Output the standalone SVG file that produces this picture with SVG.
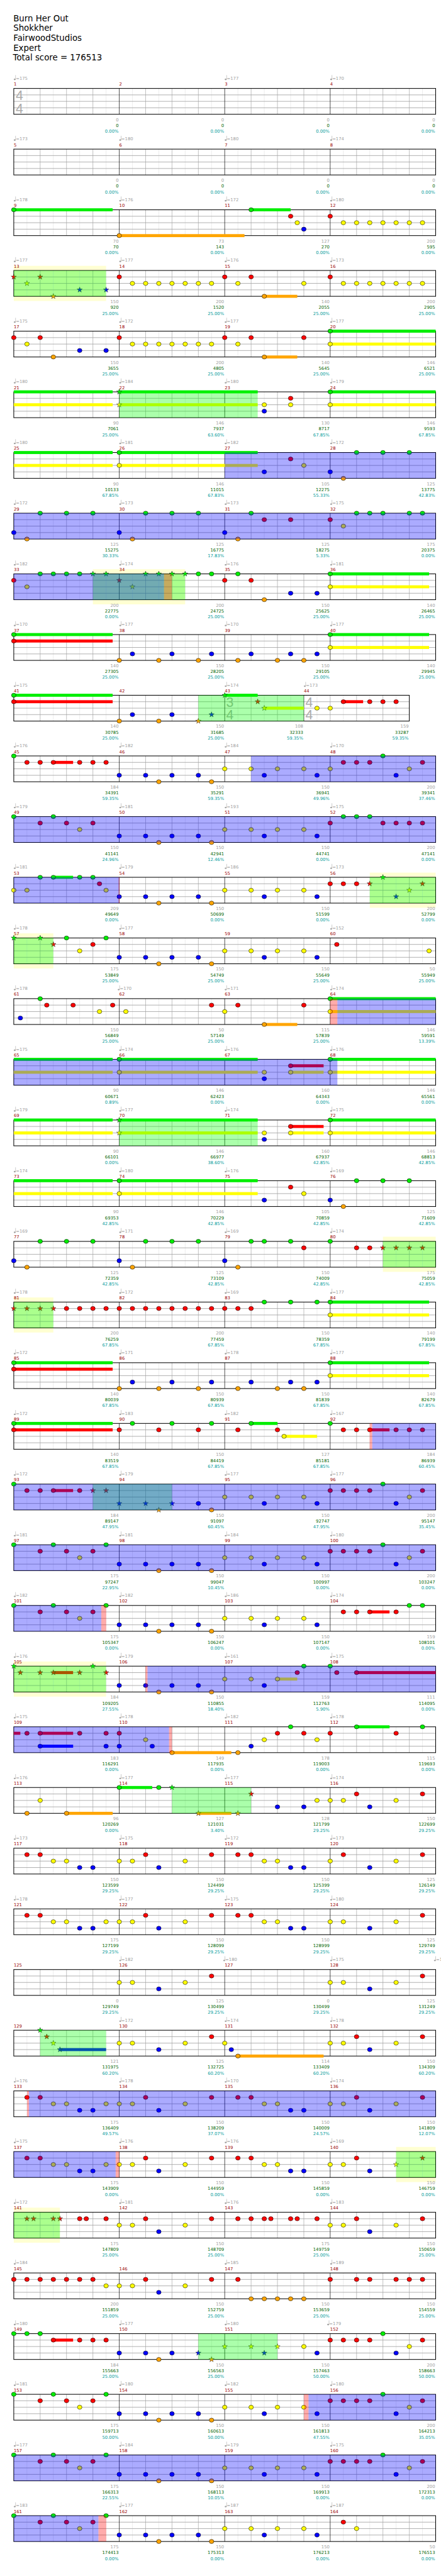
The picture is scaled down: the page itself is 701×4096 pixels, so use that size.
<svg xmlns="http://www.w3.org/2000/svg" width="701" height="4096" viewBox="0 0 701 4096">
<style>
text{font-family:"DejaVu Sans","Liberation Sans",sans-serif;font-size:10px}
.hd{font-size:19.5px;fill:#000}
.tp{fill:#a0a0a0}
.mn{fill:#990000}
.bt{text-anchor:end}
.b1{fill:#a0a0a0}.b2{fill:#006400}.b3{fill:#009a9a}
.ts{font-family:"Liberation Sans",sans-serif;font-size:31px;fill:#acacac;text-anchor:middle}
.G{fill:#00ee00}.R{fill:#ff0000}.Y{fill:#ffff00}.B{fill:#0000ff}.O{fill:#ffa500}
.yb{fill:#ffffd2}
.gr{fill:#00ff00;opacity:.33}
.bl{fill:#0000ff;opacity:.33}
.rd{fill:#ff0000;opacity:.33}
</style>
<defs>
<ellipse id="n" rx="5.3" ry="4.8" stroke="#000" stroke-width="0.8"/>
<path id="s" d="M0-6.5L1.53-2.1 6.18-2.01 2.47.8 3.82 5.26 0 2.6-3.82 5.26-2.47.8-6.18-2.01-1.53-2.1Z" stroke="#222" stroke-width="0.7" stroke-linejoin="round"/>
<g id="tg" fill="#a0a0a0"><ellipse cx="2.2" cy="0" rx="2.3" ry="1.7"/><rect x="3.9" y="-10" width="0.8" height="10"/></g>
<g id="staff" fill="none">
<path stroke="#e4e4e4" d="M62.6 0v60M123.9 0v60M185.1 0v60M246.4 0v60M307.6 0v60M368.9 0v60M430.1 0v60M491.4 0v60M552.6 0v60M613.9 0v60M675.1 0v60M736.4 0v60M797.6 0v60M858.9 0v60M920.1 0v60M981.4 0v60"/>
<path stroke="#a4a4a4" d="M93.3 0v60M154.5 0v60M215.8 0v60M338.3 0v60M399.5 0v60M460.8 0v60M583.3 0v60M644.5 0v60M705.8 0v60M828.3 0v60M889.5 0v60M950.8 0v60"/>
<path stroke="#a0a0a0" stroke-width="1.2" d="M32 15H1012M32 30H1012M32 45H1012"/>
<path stroke="#000" d="M277 0v60M522 0v60M767 0v60"/>
<rect x="32" y="0" width="980" height="60" stroke="#000" stroke-width="1.5"/>
</g>
<g id="staff10" fill="none">
<path stroke="#e4e4e4" d="M62.6 0v60M123.9 0v60M185.1 0v60M246.4 0v60M307.6 0v60M368.9 0v60M430.1 0v60M491.4 0v60M552.6 0v60M613.9 0v60M675.1 0v60M736.4 0v60M797.6 0v60M858.9 0v60M920.1 0v60"/>
<path stroke="#a4a4a4" d="M93.3 0v60M154.5 0v60M215.8 0v60M338.3 0v60M399.5 0v60M460.8 0v60M583.3 0v60M644.5 0v60M767 0v60M828.3 0v60M889.5 0v60"/>
<path stroke="#a0a0a0" stroke-width="1.2" d="M32 15H950.8M32 30H950.8M32 45H950.8"/>
<path stroke="#000" d="M277 0v60M522 0v60M705.8 0v60"/>
<rect x="32" y="0" width="918.8" height="60" stroke="#000" stroke-width="1.5"/>
</g>
</defs>
<rect width="701" height="4096" fill="#fff"/>
<g transform="scale(0.6843)">
<g id="header">
<text class="hd" x="31" y="49">Burn Her Out</text>
<text class="hd" x="31" y="72">Shokkher</text>
<text class="hd" x="31" y="95">FairwoodStudios</text>
<text class="hd" x="31" y="118">Expert</text>
<text class="hd" x="30" y="141">Total score = 176513</text>
</g>

<g id="row-1" transform="translate(0,205.5)">
<use href="#staff"/>
<text class="ts" x="45" y="27.5">4</text><text class="ts" x="45" y="57">4</text>
<use href="#tg" x="32" y="-21"/><use href="#tg" x="522" y="-21"/><use href="#tg" x="767" y="-21"/>
<text class="tp" y="-20"><tspan x="36.8">=175</tspan><tspan x="526.8">=177</tspan><tspan x="771.8">=170</tspan></text>
<text class="mn" y="-6.5"><tspan x="32">1</tspan><tspan x="277">2</tspan><tspan x="522">3</tspan><tspan x="767">4</tspan></text>
<text class="bt b1" y="76"><tspan x="275.5">0</tspan><tspan x="520.5">0</tspan><tspan x="765.5">0</tspan><tspan x="1010.5">0</tspan></text>
<text class="bt b2" y="89.5"><tspan x="275.5">0</tspan><tspan x="520.5">0</tspan><tspan x="765.5">0</tspan><tspan x="1010.5">0</tspan></text>
<text class="bt b3" y="103"><tspan x="275.5">0.00%</tspan><tspan x="520.5">0.00%</tspan><tspan x="765.5">0.00%</tspan><tspan x="1010.5">0.00%</tspan></text>
</g>

<g id="row-2" transform="translate(0,346.5)">
<use href="#staff"/>
<use href="#tg" x="32" y="-21"/><use href="#tg" x="277" y="-21"/><use href="#tg" x="522" y="-21"/><use href="#tg" x="767" y="-21"/>
<text class="tp" y="-20"><tspan x="36.8">=173</tspan><tspan x="281.8">=180</tspan><tspan x="526.8">=180</tspan><tspan x="771.8">=174</tspan></text>
<text class="mn" y="-6.5"><tspan x="32">5</tspan><tspan x="277">6</tspan><tspan x="522">7</tspan><tspan x="767">8</tspan></text>
<text class="bt b1" y="76"><tspan x="275.5">0</tspan><tspan x="520.5">0</tspan><tspan x="765.5">0</tspan><tspan x="1010.5">0</tspan></text>
<text class="bt b2" y="89.5"><tspan x="275.5">0</tspan><tspan x="520.5">0</tspan><tspan x="765.5">0</tspan><tspan x="1010.5">0</tspan></text>
<text class="bt b3" y="103"><tspan x="275.5">0.00%</tspan><tspan x="520.5">0.00%</tspan><tspan x="765.5">0.00%</tspan><tspan x="1010.5">0.00%</tspan></text>
</g>

<g id="row-3" transform="translate(0,487.5)">
<use href="#staff"/>
<use href="#tg" x="32" y="-21"/><use href="#tg" x="277" y="-21"/><use href="#tg" x="522" y="-21"/><use href="#tg" x="767" y="-21"/>
<text class="tp" y="-20"><tspan x="36.8">=178</tspan><tspan x="281.8">=176</tspan><tspan x="526.8">=172</tspan><tspan x="771.8">=180</tspan></text>
<text class="mn" y="-6.5"><tspan x="32">9</tspan><tspan x="277">10</tspan><tspan x="522">11</tspan><tspan x="767">12</tspan></text>
<text class="bt b1" y="76"><tspan x="275.5">70</tspan><tspan x="520.5">73</tspan><tspan x="765.5">127</tspan><tspan x="1010.5">200</tspan></text>
<text class="bt b2" y="89.5"><tspan x="275.5">70</tspan><tspan x="520.5">143</tspan><tspan x="765.5">270</tspan><tspan x="1010.5">595</tspan></text>
<text class="bt b3" y="103"><tspan x="275.5">0.00%</tspan><tspan x="520.5">0.00%</tspan><tspan x="765.5">0.00%</tspan><tspan x="1010.5">0.00%</tspan></text>
<rect class="G" x="32" y="-3.5" width="229.7" height="7"/><rect class="O" x="277" y="56.5" width="290.9" height="7"/><rect class="G" x="583.3" y="-3.5" width="91.9" height="7"/>
<g class="G"><use href="#n" x="32" y="0"/><use href="#n" x="583.3" y="0"/></g>
<g class="O"><use href="#n" x="277" y="60"/></g>
<g class="R"><use href="#n" x="675.1" y="15"/><use href="#n" x="767" y="15"/></g>
<g class="Y"><use href="#n" x="690.4" y="30"/><use href="#n" x="797.6" y="30"/><use href="#n" x="828.3" y="30"/><use href="#n" x="858.9" y="30"/><use href="#n" x="889.5" y="30"/><use href="#n" x="920.1" y="30"/><use href="#n" x="950.8" y="30"/><use href="#n" x="981.4" y="30"/></g>
<g class="B"><use href="#n" x="705.8" y="45"/></g>
</g>

<g id="row-4" transform="translate(0,628.5)">
<rect class="yb" x="32" y="-10.8" width="214.4" height="81.6"/>
<use href="#staff"/>
<use href="#tg" x="32" y="-21"/><use href="#tg" x="277" y="-21"/><use href="#tg" x="522" y="-21"/><use href="#tg" x="767" y="-21"/>
<text class="tp" y="-20"><tspan x="36.8">=177</tspan><tspan x="281.8">=177</tspan><tspan x="526.8">=176</tspan><tspan x="771.8">=173</tspan></text>
<text class="mn" y="-6.5"><tspan x="32">13</tspan><tspan x="277">14</tspan><tspan x="522">15</tspan><tspan x="767">16</tspan></text>
<text class="bt b1" y="76"><tspan x="275.5">150</tspan><tspan x="520.5">200</tspan><tspan x="765.5">140</tspan><tspan x="1010.5">200</tspan></text>
<text class="bt b2" y="89.5"><tspan x="275.5">920</tspan><tspan x="520.5">1520</tspan><tspan x="765.5">2055</tspan><tspan x="1010.5">2905</tspan></text>
<text class="bt b3" y="103"><tspan x="275.5">25.00%</tspan><tspan x="520.5">25.00%</tspan><tspan x="765.5">25.00%</tspan><tspan x="1010.5">25.00%</tspan></text>
<rect class="O" x="613.9" y="56.5" width="76.6" height="7"/>
<g class="R"><use href="#n" x="277" y="15"/><use href="#n" x="522" y="15"/><use href="#n" x="583.3" y="15"/><use href="#n" x="767" y="15"/><use href="#s" x="32" y="15"/><use href="#s" x="93.3" y="15"/></g>
<g class="Y"><use href="#n" x="307.6" y="30"/><use href="#n" x="338.3" y="30"/><use href="#n" x="368.9" y="30"/><use href="#n" x="399.5" y="30"/><use href="#n" x="430.1" y="30"/><use href="#n" x="460.8" y="30"/><use href="#n" x="491.4" y="30"/><use href="#n" x="552.6" y="30"/><use href="#n" x="705.8" y="30"/><use href="#n" x="797.6" y="30"/><use href="#n" x="828.3" y="30"/><use href="#n" x="858.9" y="30"/><use href="#n" x="889.5" y="30"/><use href="#n" x="920.1" y="30"/><use href="#n" x="950.8" y="30"/><use href="#n" x="981.4" y="30"/><use href="#s" x="62.6" y="30"/></g>
<g class="O"><use href="#n" x="613.9" y="60"/><use href="#s" x="123.9" y="60"/></g>
<g class="B"><use href="#s" x="185.1" y="45"/><use href="#s" x="246.4" y="45"/></g>
<rect class="gr" x="32" y="0" width="214.4" height="60"/>
</g>

<g id="row-5" transform="translate(0,769.5)">
<use href="#staff"/>
<use href="#tg" x="32" y="-21"/><use href="#tg" x="277" y="-21"/><use href="#tg" x="522" y="-21"/><use href="#tg" x="767" y="-21"/>
<text class="tp" y="-20"><tspan x="36.8">=175</tspan><tspan x="281.8">=172</tspan><tspan x="526.8">=177</tspan><tspan x="771.8">=177</tspan></text>
<text class="mn" y="-6.5"><tspan x="32">17</tspan><tspan x="277">18</tspan><tspan x="522">19</tspan><tspan x="767">20</tspan></text>
<text class="bt b1" y="76"><tspan x="275.5">150</tspan><tspan x="520.5">200</tspan><tspan x="765.5">140</tspan><tspan x="1010.5">146</tspan></text>
<text class="bt b2" y="89.5"><tspan x="275.5">3655</tspan><tspan x="520.5">4805</tspan><tspan x="765.5">5645</tspan><tspan x="1010.5">6521</tspan></text>
<text class="bt b3" y="103"><tspan x="275.5">25.00%</tspan><tspan x="520.5">25.00%</tspan><tspan x="765.5">25.00%</tspan><tspan x="1010.5">25.00%</tspan></text>
<rect class="O" x="613.9" y="56.5" width="76.6" height="7"/><rect class="G" x="767" y="-3.5" width="245" height="7"/><rect class="Y" x="767" y="26.5" width="245" height="7"/>
<g class="R"><use href="#n" x="32" y="15"/><use href="#n" x="93.3" y="15"/><use href="#n" x="277" y="15"/><use href="#n" x="522" y="15"/><use href="#n" x="583.3" y="15"/><use href="#n" x="705.8" y="15"/></g>
<g class="Y"><use href="#n" x="62.6" y="30"/><use href="#n" x="307.6" y="30"/><use href="#n" x="338.3" y="30"/><use href="#n" x="368.9" y="30"/><use href="#n" x="399.5" y="30"/><use href="#n" x="430.1" y="30"/><use href="#n" x="460.8" y="30"/><use href="#n" x="491.4" y="30"/><use href="#n" x="552.6" y="30"/><use href="#n" x="767" y="30"/></g>
<g class="B"><use href="#n" x="185.1" y="45"/><use href="#n" x="246.4" y="45"/></g>
<g class="O"><use href="#n" x="123.9" y="60"/><use href="#n" x="613.9" y="60"/></g>
<g class="G"><use href="#n" x="767" y="0"/></g>
</g>

<g id="row-6" transform="translate(0,910.5)">
<use href="#staff"/>
<use href="#tg" x="32" y="-21"/><use href="#tg" x="277" y="-21"/><use href="#tg" x="522" y="-21"/><use href="#tg" x="767" y="-21"/>
<text class="tp" y="-20"><tspan x="36.8">=180</tspan><tspan x="281.8">=184</tspan><tspan x="526.8">=180</tspan><tspan x="771.8">=179</tspan></text>
<text class="mn" y="-6.5"><tspan x="32">21</tspan><tspan x="277">22</tspan><tspan x="522">23</tspan><tspan x="767">24</tspan></text>
<text class="bt b1" y="76"><tspan x="275.5">90</tspan><tspan x="520.5">146</tspan><tspan x="765.5">130</tspan><tspan x="1010.5">146</tspan></text>
<text class="bt b2" y="89.5"><tspan x="275.5">7061</tspan><tspan x="520.5">7937</tspan><tspan x="765.5">8717</tspan><tspan x="1010.5">9593</tspan></text>
<text class="bt b3" y="103"><tspan x="275.5">25.00%</tspan><tspan x="520.5">63.60%</tspan><tspan x="765.5">67.85%</tspan><tspan x="1010.5">67.85%</tspan></text>
<rect class="G" x="32" y="-3.5" width="229.7" height="7"/><rect class="Y" x="32" y="26.5" width="229.7" height="7"/><rect class="G" x="277" y="-3.5" width="321.6" height="7"/><rect class="Y" x="277" y="26.5" width="321.6" height="7"/><rect class="G" x="767" y="-3.5" width="245" height="7"/><rect class="Y" x="767" y="26.5" width="245" height="7"/>
<g class="Y"><use href="#n" x="613.9" y="30"/><use href="#n" x="675.1" y="30"/><use href="#n" x="767" y="30"/><use href="#s" x="277" y="30"/></g>
<g class="B"><use href="#n" x="613.9" y="45"/></g>
<g class="R"><use href="#n" x="675.1" y="15"/></g>
<g class="G"><use href="#n" x="767" y="0"/><use href="#s" x="277" y="0"/></g>
<rect class="gr" x="277" y="0" width="321.6" height="60"/>
</g>

<g id="row-7" transform="translate(0,1051.5)">
<use href="#staff"/>
<use href="#tg" x="32" y="-21"/><use href="#tg" x="277" y="-21"/><use href="#tg" x="522" y="-21"/><use href="#tg" x="767" y="-21"/>
<text class="tp" y="-20"><tspan x="36.8">=180</tspan><tspan x="281.8">=181</tspan><tspan x="526.8">=182</tspan><tspan x="771.8">=172</tspan></text>
<text class="mn" y="-6.5"><tspan x="32">25</tspan><tspan x="277">26</tspan><tspan x="522">27</tspan><tspan x="767">28</tspan></text>
<text class="bt b1" y="76"><tspan x="275.5">90</tspan><tspan x="520.5">146</tspan><tspan x="765.5">105</tspan><tspan x="1010.5">125</tspan></text>
<text class="bt b2" y="89.5"><tspan x="275.5">10133</tspan><tspan x="520.5">11015</tspan><tspan x="765.5">12275</tspan><tspan x="1010.5">13775</tspan></text>
<text class="bt b3" y="103"><tspan x="275.5">67.85%</tspan><tspan x="520.5">67.83%</tspan><tspan x="765.5">55.33%</tspan><tspan x="1010.5">42.83%</tspan></text>
<rect class="G" x="32" y="-3.5" width="229.7" height="7"/><rect class="Y" x="32" y="26.5" width="229.7" height="7"/><rect class="G" x="277" y="-3.5" width="321.6" height="7"/><rect class="Y" x="277" y="26.5" width="321.6" height="7"/>
<g class="G"><use href="#n" x="277" y="0"/><use href="#n" x="828.3" y="0"/><use href="#n" x="889.5" y="0"/><use href="#n" x="950.8" y="0"/></g>
<g class="Y"><use href="#n" x="277" y="30"/><use href="#n" x="705.8" y="30"/></g>
<g class="B"><use href="#n" x="613.9" y="45"/><use href="#n" x="767" y="45"/></g>
<g class="R"><use href="#n" x="675.1" y="15"/></g>
<g class="O"><use href="#n" x="797.6" y="60"/></g>
<rect class="bl" x="522" y="0" width="490" height="60"/>
</g>

<g id="row-8" transform="translate(0,1192.5)">
<use href="#staff"/>
<use href="#tg" x="32" y="-21"/><use href="#tg" x="277" y="-21"/><use href="#tg" x="522" y="-21"/><use href="#tg" x="767" y="-21"/>
<text class="tp" y="-20"><tspan x="36.8">=172</tspan><tspan x="281.8">=173</tspan><tspan x="526.8">=173</tspan><tspan x="771.8">=175</tspan></text>
<text class="mn" y="-6.5"><tspan x="32">29</tspan><tspan x="277">30</tspan><tspan x="522">31</tspan><tspan x="767">32</tspan></text>
<text class="bt b1" y="76"><tspan x="275.5">125</tspan><tspan x="520.5">125</tspan><tspan x="765.5">125</tspan><tspan x="1010.5">175</tspan></text>
<text class="bt b2" y="89.5"><tspan x="275.5">15275</tspan><tspan x="520.5">16775</tspan><tspan x="765.5">18275</tspan><tspan x="1010.5">20375</tspan></text>
<text class="bt b3" y="103"><tspan x="275.5">30.33%</tspan><tspan x="520.5">17.83%</tspan><tspan x="765.5">5.33%</tspan><tspan x="1010.5">0.00%</tspan></text>
<g class="G"><use href="#n" x="93.3" y="0"/><use href="#n" x="154.5" y="0"/><use href="#n" x="215.8" y="0"/><use href="#n" x="338.3" y="0"/><use href="#n" x="399.5" y="0"/><use href="#n" x="460.8" y="0"/><use href="#n" x="583.3" y="0"/><use href="#n" x="828.3" y="0"/><use href="#n" x="858.9" y="0"/><use href="#n" x="889.5" y="0"/><use href="#n" x="950.8" y="0"/><use href="#n" x="981.4" y="0"/></g>
<g class="R"><use href="#n" x="613.9" y="15"/><use href="#n" x="675.1" y="15"/><use href="#n" x="767" y="15"/></g>
<g class="Y"><use href="#n" x="797.6" y="30"/></g>
<g class="B"><use href="#n" x="32" y="45"/><use href="#n" x="277" y="45"/><use href="#n" x="522" y="45"/></g>
<g class="O"><use href="#n" x="62.6" y="60"/><use href="#n" x="307.6" y="60"/><use href="#n" x="552.6" y="60"/></g>
<rect class="bl" x="32" y="0" width="980" height="60"/>
</g>

<g id="row-9" transform="translate(0,1333.5)">
<rect class="yb" x="215.8" y="-10.8" width="214.3" height="81.6"/>
<use href="#staff"/>
<use href="#tg" x="32" y="-21"/><use href="#tg" x="277" y="-21"/><use href="#tg" x="522" y="-21"/><use href="#tg" x="767" y="-21"/>
<text class="tp" y="-20"><tspan x="36.8">=182</tspan><tspan x="281.8">=174</tspan><tspan x="526.8">=176</tspan><tspan x="771.8">=181</tspan></text>
<text class="mn" y="-6.5"><tspan x="32">33</tspan><tspan x="277">34</tspan><tspan x="522">35</tspan><tspan x="767">36</tspan></text>
<text class="bt b1" y="76"><tspan x="275.5">200</tspan><tspan x="520.5">200</tspan><tspan x="765.5">150</tspan><tspan x="1010.5">140</tspan></text>
<text class="bt b2" y="89.5"><tspan x="275.5">22775</tspan><tspan x="520.5">24725</tspan><tspan x="765.5">25625</tspan><tspan x="1010.5">26465</tspan></text>
<text class="bt b3" y="103"><tspan x="275.5">0.00%</tspan><tspan x="520.5">25.00%</tspan><tspan x="765.5">25.00%</tspan><tspan x="1010.5">25.00%</tspan></text>
<rect class="G" x="767" y="-3.5" width="229.7" height="7"/><rect class="Y" x="767" y="26.5" width="229.7" height="7"/>
<g class="R"><use href="#n" x="32" y="15"/><use href="#n" x="522" y="15"/><use href="#n" x="583.3" y="15"/><use href="#s" x="277" y="15"/></g>
<g class="Y"><use href="#n" x="62.6" y="30"/><use href="#n" x="767" y="30"/><use href="#s" x="307.6" y="30"/></g>
<g class="G"><use href="#n" x="93.3" y="0"/><use href="#n" x="123.9" y="0"/><use href="#n" x="154.5" y="0"/><use href="#n" x="185.1" y="0"/><use href="#n" x="460.8" y="0"/><use href="#n" x="491.4" y="0"/><use href="#n" x="552.6" y="0"/><use href="#n" x="767" y="0"/><use href="#s" x="215.8" y="0"/><use href="#s" x="246.4" y="0"/><use href="#s" x="338.3" y="0"/><use href="#s" x="368.9" y="0"/><use href="#s" x="399.5" y="0"/><use href="#s" x="430.1" y="0"/></g>
<g class="O"><use href="#n" x="613.9" y="60"/></g>
<g class="B"><use href="#n" x="675.1" y="45"/><use href="#n" x="736.4" y="45"/></g>
<rect class="gr" x="215.8" y="0" width="214.3" height="60"/>
<rect class="bl" x="32" y="0" width="349" height="60"/>
<rect class="rd" x="381" y="0" width="18.5" height="60"/>
</g>

<g id="row-10" transform="translate(0,1474.5)">
<use href="#staff"/>
<use href="#tg" x="32" y="-21"/><use href="#tg" x="277" y="-21"/><use href="#tg" x="522" y="-21"/><use href="#tg" x="767" y="-21"/>
<text class="tp" y="-20"><tspan x="36.8">=170</tspan><tspan x="281.8">=177</tspan><tspan x="526.8">=170</tspan><tspan x="771.8">=177</tspan></text>
<text class="mn" y="-6.5"><tspan x="32">37</tspan><tspan x="277">38</tspan><tspan x="522">39</tspan><tspan x="767">40</tspan></text>
<text class="bt b1" y="76"><tspan x="275.5">140</tspan><tspan x="520.5">150</tspan><tspan x="765.5">150</tspan><tspan x="1010.5">140</tspan></text>
<text class="bt b2" y="89.5"><tspan x="275.5">27305</tspan><tspan x="520.5">28205</tspan><tspan x="765.5">29105</tspan><tspan x="1010.5">29945</tspan></text>
<text class="bt b3" y="103"><tspan x="275.5">25.00%</tspan><tspan x="520.5">25.00%</tspan><tspan x="765.5">25.00%</tspan><tspan x="1010.5">25.00%</tspan></text>
<rect class="G" x="32" y="-3.5" width="229.7" height="7"/><rect class="R" x="32" y="11.5" width="229.7" height="7"/><rect class="G" x="767" y="-3.5" width="229.7" height="7"/><rect class="Y" x="767" y="26.5" width="229.7" height="7"/>
<g class="G"><use href="#n" x="32" y="0"/><use href="#n" x="767" y="0"/></g>
<g class="R"><use href="#n" x="32" y="15"/></g>
<g class="Y"><use href="#n" x="767" y="30"/></g>
<g class="O"><use href="#n" x="277" y="60"/><use href="#n" x="368.9" y="60"/><use href="#n" x="460.8" y="60"/><use href="#n" x="552.6" y="60"/><use href="#n" x="644.5" y="60"/><use href="#n" x="705.8" y="60"/></g>
<g class="B"><use href="#n" x="307.6" y="45"/><use href="#n" x="399.5" y="45"/><use href="#n" x="491.4" y="45"/><use href="#n" x="583.3" y="45"/><use href="#n" x="675.1" y="45"/><use href="#n" x="736.4" y="45"/></g>
</g>

<g id="row-11" transform="translate(0,1615.5)">
<use href="#staff10"/>
<text class="ts" x="534" y="27.5">3</text><text class="ts" x="534" y="57">4</text><text class="ts" x="718" y="27.5">4</text><text class="ts" x="718" y="57">4</text>
<use href="#tg" x="32" y="-21"/><use href="#tg" x="522" y="-21"/><use href="#tg" x="705.8" y="-21"/>
<text class="tp" y="-20"><tspan x="36.8">=175</tspan><tspan x="526.8">=174</tspan><tspan x="710.6">=173</tspan></text>
<text class="mn" y="-6.5"><tspan x="32">41</tspan><tspan x="277">42</tspan><tspan x="522">43</tspan><tspan x="705.8">44</tspan></text>
<text class="bt b1" y="76"><tspan x="275.5">140</tspan><tspan x="520.5">150</tspan><tspan x="704.3">108</tspan><tspan x="949.3">159</tspan></text>
<text class="bt b2" y="89.5"><tspan x="275.5">30785</tspan><tspan x="520.5">31685</tspan><tspan x="704.3">32333</tspan><tspan x="949.3">33287</tspan></text>
<text class="bt b3" y="103"><tspan x="275.5">25.00%</tspan><tspan x="520.5">25.00%</tspan><tspan x="704.3">59.35%</tspan><tspan x="949.3">59.35%</tspan></text>
<rect class="G" x="32" y="-3.5" width="229.7" height="7"/><rect class="R" x="32" y="11.5" width="229.7" height="7"/><rect class="G" x="522" y="-3.5" width="76.6" height="7"/><rect class="Y" x="613.9" y="26.5" width="91.9" height="7"/><rect class="R" x="797.6" y="11.5" width="45.9" height="7"/>
<g class="G"><use href="#n" x="32" y="0"/><use href="#s" x="522" y="0"/></g>
<g class="R"><use href="#n" x="32" y="15"/><use href="#n" x="797.6" y="15"/><use href="#n" x="858.9" y="15"/><use href="#n" x="889.5" y="15"/><use href="#n" x="920.1" y="15"/><use href="#s" x="598.6" y="15"/></g>
<g class="O"><use href="#n" x="277" y="60"/><use href="#n" x="368.9" y="60"/><use href="#s" x="460.8" y="60"/></g>
<g class="B"><use href="#n" x="307.6" y="45"/><use href="#n" x="399.5" y="45"/><use href="#s" x="491.4" y="45"/></g>
<g class="Y"><use href="#n" x="736.4" y="30"/><use href="#n" x="767" y="30"/><use href="#s" x="613.9" y="30"/></g>
<rect class="gr" x="460.8" y="0" width="245" height="60"/>
</g>

<g id="row-12" transform="translate(0,1756.5)">
<use href="#staff"/>
<use href="#tg" x="32" y="-21"/><use href="#tg" x="277" y="-21"/><use href="#tg" x="522" y="-21"/><use href="#tg" x="767" y="-21"/>
<text class="tp" y="-20"><tspan x="36.8">=176</tspan><tspan x="281.8">=182</tspan><tspan x="526.8">=184</tspan><tspan x="771.8">=170</tspan></text>
<text class="mn" y="-6.5"><tspan x="32">45</tspan><tspan x="277">46</tspan><tspan x="522">47</tspan><tspan x="767">48</tspan></text>
<text class="bt b1" y="76"><tspan x="275.5">184</tspan><tspan x="520.5">150</tspan><tspan x="765.5">150</tspan><tspan x="1010.5">200</tspan></text>
<text class="bt b2" y="89.5"><tspan x="275.5">34391</tspan><tspan x="520.5">35291</tspan><tspan x="765.5">36941</tspan><tspan x="1010.5">39341</tspan></text>
<text class="bt b3" y="103"><tspan x="275.5">59.35%</tspan><tspan x="520.5">59.35%</tspan><tspan x="765.5">49.96%</tspan><tspan x="1010.5">37.46%</tspan></text>
<rect class="R" x="123.9" y="11.5" width="45.9" height="7"/>
<g class="G"><use href="#n" x="32" y="0"/><use href="#n" x="889.5" y="0"/></g>
<g class="R"><use href="#n" x="62.6" y="15"/><use href="#n" x="93.3" y="15"/><use href="#n" x="123.9" y="15"/><use href="#n" x="185.1" y="15"/><use href="#n" x="215.8" y="15"/><use href="#n" x="246.4" y="15"/><use href="#n" x="797.6" y="15"/><use href="#n" x="828.3" y="15"/><use href="#n" x="858.9" y="15"/><use href="#n" x="981.4" y="15"/></g>
<g class="B"><use href="#n" x="277" y="45"/><use href="#n" x="338.3" y="45"/><use href="#n" x="399.5" y="45"/><use href="#n" x="460.8" y="45"/><use href="#n" x="613.9" y="45"/><use href="#n" x="736.4" y="45"/><use href="#n" x="920.1" y="45"/></g>
<g class="O"><use href="#n" x="368.9" y="60"/><use href="#n" x="491.4" y="60"/></g>
<g class="Y"><use href="#n" x="522" y="30"/><use href="#n" x="583.3" y="30"/><use href="#n" x="644.5" y="30"/><use href="#n" x="705.8" y="30"/><use href="#n" x="767" y="30"/><use href="#n" x="950.8" y="30"/></g>
<rect class="bl" x="583.3" y="0" width="428.7" height="60"/>
</g>

<g id="row-13" transform="translate(0,1897.5)">
<use href="#staff"/>
<use href="#tg" x="32" y="-21"/><use href="#tg" x="277" y="-21"/><use href="#tg" x="522" y="-21"/><use href="#tg" x="767" y="-21"/>
<text class="tp" y="-20"><tspan x="36.8">=179</tspan><tspan x="281.8">=181</tspan><tspan x="526.8">=193</tspan><tspan x="771.8">=175</tspan></text>
<text class="mn" y="-6.5"><tspan x="32">49</tspan><tspan x="277">50</tspan><tspan x="522">51</tspan><tspan x="767">52</tspan></text>
<text class="bt b1" y="76"><tspan x="275.5">150</tspan><tspan x="520.5">150</tspan><tspan x="765.5">150</tspan><tspan x="1010.5">200</tspan></text>
<text class="bt b2" y="89.5"><tspan x="275.5">41141</tspan><tspan x="520.5">42941</tspan><tspan x="765.5">44741</tspan><tspan x="1010.5">47141</tspan></text>
<text class="bt b3" y="103"><tspan x="275.5">24.96%</tspan><tspan x="520.5">12.46%</tspan><tspan x="765.5">0.00%</tspan><tspan x="1010.5">0.00%</tspan></text>
<g class="G"><use href="#n" x="32" y="0"/><use href="#n" x="123.9" y="0"/><use href="#n" x="797.6" y="0"/><use href="#n" x="828.3" y="0"/><use href="#n" x="858.9" y="0"/></g>
<g class="R"><use href="#n" x="93.3" y="15"/><use href="#n" x="154.5" y="15"/><use href="#n" x="215.8" y="15"/><use href="#n" x="767" y="15"/><use href="#n" x="889.5" y="15"/><use href="#n" x="920.1" y="15"/><use href="#n" x="950.8" y="15"/><use href="#n" x="981.4" y="15"/></g>
<g class="Y"><use href="#n" x="185.1" y="30"/><use href="#n" x="522" y="30"/><use href="#n" x="583.3" y="30"/><use href="#n" x="644.5" y="30"/><use href="#n" x="705.8" y="30"/></g>
<g class="B"><use href="#n" x="277" y="45"/><use href="#n" x="338.3" y="45"/><use href="#n" x="399.5" y="45"/><use href="#n" x="460.8" y="45"/><use href="#n" x="613.9" y="45"/><use href="#n" x="736.4" y="45"/></g>
<g class="O"><use href="#n" x="368.9" y="60"/><use href="#n" x="491.4" y="60"/></g>
<rect class="bl" x="32" y="0" width="980" height="60"/>
</g>

<g id="row-14" transform="translate(0,2038.5)">
<rect class="yb" x="858.9" y="-10.8" width="153.1" height="81.6"/>
<use href="#staff"/>
<use href="#tg" x="32" y="-21"/><use href="#tg" x="277" y="-21"/><use href="#tg" x="522" y="-21"/><use href="#tg" x="767" y="-21"/>
<text class="tp" y="-20"><tspan x="36.8">=181</tspan><tspan x="281.8">=179</tspan><tspan x="526.8">=186</tspan><tspan x="771.8">=173</tspan></text>
<text class="mn" y="-6.5"><tspan x="32">53</tspan><tspan x="277">54</tspan><tspan x="522">55</tspan><tspan x="767">56</tspan></text>
<text class="bt b1" y="76"><tspan x="275.5">209</tspan><tspan x="520.5">150</tspan><tspan x="765.5">150</tspan><tspan x="1010.5">200</tspan></text>
<text class="bt b2" y="89.5"><tspan x="275.5">49649</tspan><tspan x="520.5">50699</tspan><tspan x="765.5">51599</tspan><tspan x="1010.5">52799</tspan></text>
<text class="bt b3" y="103"><tspan x="275.5">0.00%</tspan><tspan x="520.5">0.00%</tspan><tspan x="765.5">0.00%</tspan><tspan x="1010.5">0.00%</tspan></text>
<rect class="G" x="123.9" y="-3.5" width="45.9" height="7"/>
<g class="Y"><use href="#n" x="32" y="30"/><use href="#n" x="62.6" y="30"/><use href="#n" x="246.4" y="30"/><use href="#n" x="522" y="30"/><use href="#n" x="583.3" y="30"/><use href="#n" x="644.5" y="30"/><use href="#n" x="705.8" y="30"/><use href="#s" x="950.8" y="30"/></g>
<g class="G"><use href="#n" x="93.3" y="0"/><use href="#n" x="123.9" y="0"/><use href="#n" x="185.1" y="0"/><use href="#n" x="215.8" y="0"/><use href="#s" x="889.5" y="0"/></g>
<g class="R"><use href="#n" x="231.1" y="15"/><use href="#n" x="767" y="15"/><use href="#n" x="797.6" y="15"/><use href="#n" x="828.3" y="15"/><use href="#s" x="858.9" y="15"/><use href="#s" x="981.4" y="15"/></g>
<g class="B"><use href="#n" x="277" y="45"/><use href="#n" x="338.3" y="45"/><use href="#n" x="399.5" y="45"/><use href="#n" x="460.8" y="45"/><use href="#n" x="613.9" y="45"/><use href="#n" x="736.4" y="45"/><use href="#s" x="920.1" y="45"/></g>
<g class="O"><use href="#n" x="368.9" y="60"/><use href="#n" x="491.4" y="60"/></g>
<rect class="bl" x="32" y="0" width="245" height="60"/>
<rect class="rd" x="275.5" y="0" width="2" height="60"/>
<rect class="gr" x="858.9" y="0" width="153.1" height="60"/>
</g>

<g id="row-15" transform="translate(0,2179.5)">
<rect class="yb" x="32" y="-10.8" width="91.9" height="81.6"/>
<use href="#staff"/>
<use href="#tg" x="32" y="-21"/><use href="#tg" x="277" y="-21"/><use href="#tg" x="767" y="-21"/>
<text class="tp" y="-20"><tspan x="36.8">=178</tspan><tspan x="281.8">=177</tspan><tspan x="771.8">=152</tspan></text>
<text class="mn" y="-6.5"><tspan x="32">57</tspan><tspan x="277">58</tspan><tspan x="522">59</tspan><tspan x="767">60</tspan></text>
<text class="bt b1" y="76"><tspan x="275.5">175</tspan><tspan x="520.5">150</tspan><tspan x="765.5">150</tspan><tspan x="1010.5">50</tspan></text>
<text class="bt b2" y="89.5"><tspan x="275.5">53849</tspan><tspan x="520.5">54749</tspan><tspan x="765.5">55649</tspan><tspan x="1010.5">55949</tspan></text>
<text class="bt b3" y="103"><tspan x="275.5">25.00%</tspan><tspan x="520.5">25.00%</tspan><tspan x="765.5">25.00%</tspan><tspan x="1010.5">25.00%</tspan></text>
<g class="G"><use href="#n" x="154.5" y="0"/><use href="#n" x="246.4" y="0"/><use href="#s" x="32" y="0"/><use href="#s" x="93.3" y="0"/></g>
<g class="Y"><use href="#n" x="185.1" y="30"/><use href="#n" x="522" y="30"/><use href="#n" x="583.3" y="30"/><use href="#n" x="644.5" y="30"/><use href="#n" x="705.8" y="30"/><use href="#n" x="996.7" y="30"/></g>
<g class="R"><use href="#n" x="215.8" y="15"/><use href="#n" x="782.3" y="15"/><use href="#s" x="123.9" y="15"/></g>
<g class="B"><use href="#n" x="277" y="45"/><use href="#n" x="338.3" y="45"/><use href="#n" x="399.5" y="45"/><use href="#n" x="460.8" y="45"/><use href="#n" x="613.9" y="45"/><use href="#n" x="736.4" y="45"/></g>
<g class="O"><use href="#n" x="368.9" y="60"/><use href="#n" x="491.4" y="60"/></g>
<rect class="gr" x="32" y="0" width="91.9" height="60"/>
</g>

<g id="row-16" transform="translate(0,2320.5)">
<use href="#staff"/>
<use href="#tg" x="32" y="-21"/><use href="#tg" x="273.5" y="-21"/><use href="#tg" x="522" y="-21"/><use href="#tg" x="767" y="-21"/>
<text class="tp" y="-20"><tspan x="36.8">=178</tspan><tspan x="278.3">=170</tspan><tspan x="526.8">=171</tspan><tspan x="771.8">=174</tspan></text>
<text class="mn" y="-6.5"><tspan x="32">61</tspan><tspan x="277">62</tspan><tspan x="522">63</tspan><tspan x="767">64</tspan></text>
<text class="bt b1" y="76"><tspan x="275.5">150</tspan><tspan x="520.5">50</tspan><tspan x="765.5">115</tspan><tspan x="1010.5">146</tspan></text>
<text class="bt b2" y="89.5"><tspan x="275.5">56849</tspan><tspan x="520.5">57149</tspan><tspan x="765.5">57839</tspan><tspan x="1010.5">59591</tspan></text>
<text class="bt b3" y="103"><tspan x="275.5">25.00%</tspan><tspan x="520.5">25.00%</tspan><tspan x="765.5">25.00%</tspan><tspan x="1010.5">13.39%</tspan></text>
<rect class="O" x="613.9" y="56.5" width="76.6" height="7"/><rect class="G" x="767" y="-3.5" width="245" height="7"/><rect class="Y" x="767" y="26.5" width="245" height="7"/>
<g class="B"><use href="#n" x="47.3" y="45"/></g>
<g class="G"><use href="#n" x="93.3" y="0"/><use href="#n" x="767" y="0"/></g>
<g class="R"><use href="#n" x="108.6" y="15"/><use href="#n" x="169.8" y="15"/><use href="#n" x="261.7" y="15"/><use href="#n" x="491.4" y="15"/><use href="#n" x="552.6" y="15"/><use href="#n" x="705.8" y="15"/></g>
<g class="Y"><use href="#n" x="231.1" y="30"/><use href="#n" x="292.3" y="30"/><use href="#n" x="522" y="30"/><use href="#n" x="767" y="30"/></g>
<g class="O"><use href="#n" x="613.9" y="60"/></g>
<rect class="rd" x="767" y="0" width="16.7" height="60"/>
<rect class="bl" x="783.7" y="0" width="228.3" height="60"/>
</g>

<g id="row-17" transform="translate(0,2461.5)">
<use href="#staff"/>
<use href="#tg" x="32" y="-21"/><use href="#tg" x="277" y="-21"/><use href="#tg" x="522" y="-21"/><use href="#tg" x="767" y="-21"/>
<text class="tp" y="-20"><tspan x="36.8">=175</tspan><tspan x="281.8">=174</tspan><tspan x="526.8">=176</tspan><tspan x="771.8">=176</tspan></text>
<text class="mn" y="-6.5"><tspan x="32">65</tspan><tspan x="277">66</tspan><tspan x="522">67</tspan><tspan x="767">68</tspan></text>
<text class="bt b1" y="76"><tspan x="275.5">90</tspan><tspan x="520.5">146</tspan><tspan x="765.5">160</tspan><tspan x="1010.5">146</tspan></text>
<text class="bt b2" y="89.5"><tspan x="275.5">60671</tspan><tspan x="520.5">62423</tspan><tspan x="765.5">64343</tspan><tspan x="1010.5">65561</tspan></text>
<text class="bt b3" y="103"><tspan x="275.5">0.89%</tspan><tspan x="520.5">0.00%</tspan><tspan x="765.5">0.00%</tspan><tspan x="1010.5">0.00%</tspan></text>
<rect class="G" x="32" y="-3.5" width="229.7" height="7"/><rect class="Y" x="32" y="26.5" width="229.7" height="7"/><rect class="G" x="277" y="-3.5" width="321.6" height="7"/><rect class="Y" x="277" y="26.5" width="321.6" height="7"/><rect class="R" x="675.1" y="11.5" width="76.6" height="7"/><rect class="Y" x="675.1" y="26.5" width="76.6" height="7"/><rect class="G" x="767" y="-3.5" width="245" height="7"/><rect class="Y" x="767" y="26.5" width="245" height="7"/>
<g class="G"><use href="#n" x="277" y="0"/><use href="#n" x="767" y="0"/></g>
<g class="Y"><use href="#n" x="277" y="30"/><use href="#n" x="613.9" y="30"/><use href="#n" x="675.1" y="30"/><use href="#n" x="767" y="30"/></g>
<g class="B"><use href="#n" x="613.9" y="45"/></g>
<g class="R"><use href="#n" x="675.1" y="15"/></g>
<rect class="bl" x="32" y="0" width="751.7" height="60"/>
</g>

<g id="row-18" transform="translate(0,2602.5)">
<use href="#staff"/>
<use href="#tg" x="32" y="-21"/><use href="#tg" x="277" y="-21"/><use href="#tg" x="522" y="-21"/><use href="#tg" x="767" y="-21"/>
<text class="tp" y="-20"><tspan x="36.8">=179</tspan><tspan x="281.8">=177</tspan><tspan x="526.8">=174</tspan><tspan x="771.8">=175</tspan></text>
<text class="mn" y="-6.5"><tspan x="32">69</tspan><tspan x="277">70</tspan><tspan x="522">71</tspan><tspan x="767">72</tspan></text>
<text class="bt b1" y="76"><tspan x="275.5">90</tspan><tspan x="520.5">146</tspan><tspan x="765.5">160</tspan><tspan x="1010.5">146</tspan></text>
<text class="bt b2" y="89.5"><tspan x="275.5">66101</tspan><tspan x="520.5">66977</tspan><tspan x="765.5">67937</tspan><tspan x="1010.5">68813</tspan></text>
<text class="bt b3" y="103"><tspan x="275.5">0.00%</tspan><tspan x="520.5">38.60%</tspan><tspan x="765.5">42.85%</tspan><tspan x="1010.5">42.85%</tspan></text>
<rect class="G" x="32" y="-3.5" width="229.7" height="7"/><rect class="Y" x="32" y="26.5" width="229.7" height="7"/><rect class="G" x="277" y="-3.5" width="321.6" height="7"/><rect class="Y" x="277" y="26.5" width="321.6" height="7"/><rect class="R" x="675.1" y="11.5" width="76.6" height="7"/><rect class="Y" x="675.1" y="26.5" width="76.6" height="7"/><rect class="G" x="767" y="-3.5" width="245" height="7"/><rect class="Y" x="767" y="26.5" width="245" height="7"/>
<g class="Y"><use href="#n" x="613.9" y="30"/><use href="#n" x="675.1" y="30"/><use href="#n" x="767" y="30"/><use href="#s" x="277" y="30"/></g>
<g class="B"><use href="#n" x="613.9" y="45"/></g>
<g class="R"><use href="#n" x="675.1" y="15"/></g>
<g class="G"><use href="#n" x="767" y="0"/><use href="#s" x="277" y="0"/></g>
<rect class="gr" x="277" y="0" width="321.6" height="60"/>
</g>

<g id="row-19" transform="translate(0,2743.5)">
<use href="#staff"/>
<use href="#tg" x="32" y="-21"/><use href="#tg" x="277" y="-21"/><use href="#tg" x="522" y="-21"/><use href="#tg" x="767" y="-21"/>
<text class="tp" y="-20"><tspan x="36.8">=174</tspan><tspan x="281.8">=180</tspan><tspan x="526.8">=176</tspan><tspan x="771.8">=169</tspan></text>
<text class="mn" y="-6.5"><tspan x="32">73</tspan><tspan x="277">74</tspan><tspan x="522">75</tspan><tspan x="767">76</tspan></text>
<text class="bt b1" y="76"><tspan x="275.5">90</tspan><tspan x="520.5">146</tspan><tspan x="765.5">105</tspan><tspan x="1010.5">125</tspan></text>
<text class="bt b2" y="89.5"><tspan x="275.5">69353</tspan><tspan x="520.5">70229</tspan><tspan x="765.5">70859</tspan><tspan x="1010.5">71609</tspan></text>
<text class="bt b3" y="103"><tspan x="275.5">42.85%</tspan><tspan x="520.5">42.85%</tspan><tspan x="765.5">42.85%</tspan><tspan x="1010.5">42.85%</tspan></text>
<rect class="G" x="32" y="-3.5" width="229.7" height="7"/><rect class="Y" x="32" y="26.5" width="229.7" height="7"/><rect class="G" x="277" y="-3.5" width="321.6" height="7"/><rect class="Y" x="277" y="26.5" width="321.6" height="7"/>
<g class="G"><use href="#n" x="277" y="0"/><use href="#n" x="828.3" y="0"/><use href="#n" x="889.5" y="0"/><use href="#n" x="950.8" y="0"/></g>
<g class="Y"><use href="#n" x="277" y="30"/><use href="#n" x="705.8" y="30"/></g>
<g class="B"><use href="#n" x="613.9" y="45"/><use href="#n" x="767" y="45"/></g>
<g class="R"><use href="#n" x="675.1" y="15"/></g>
<g class="O"><use href="#n" x="797.6" y="60"/></g>
</g>

<g id="row-20" transform="translate(0,2884.5)">
<rect class="yb" x="889.5" y="-10.8" width="122.5" height="81.6"/>
<use href="#staff"/>
<use href="#tg" x="32" y="-21"/><use href="#tg" x="277" y="-21"/><use href="#tg" x="522" y="-21"/><use href="#tg" x="767" y="-21"/>
<text class="tp" y="-20"><tspan x="36.8">=169</tspan><tspan x="281.8">=171</tspan><tspan x="526.8">=169</tspan><tspan x="771.8">=174</tspan></text>
<text class="mn" y="-6.5"><tspan x="32">77</tspan><tspan x="277">78</tspan><tspan x="522">79</tspan><tspan x="767">80</tspan></text>
<text class="bt b1" y="76"><tspan x="275.5">125</tspan><tspan x="520.5">125</tspan><tspan x="765.5">150</tspan><tspan x="1010.5">175</tspan></text>
<text class="bt b2" y="89.5"><tspan x="275.5">72359</tspan><tspan x="520.5">73109</tspan><tspan x="765.5">74009</tspan><tspan x="1010.5">75059</tspan></text>
<text class="bt b3" y="103"><tspan x="275.5">42.85%</tspan><tspan x="520.5">42.85%</tspan><tspan x="765.5">42.85%</tspan><tspan x="1010.5">42.85%</tspan></text>
<g class="B"><use href="#n" x="32" y="45"/><use href="#n" x="277" y="45"/><use href="#n" x="522" y="45"/></g>
<g class="O"><use href="#n" x="62.6" y="60"/><use href="#n" x="307.6" y="60"/><use href="#n" x="552.6" y="60"/></g>
<g class="G"><use href="#n" x="93.3" y="0"/><use href="#n" x="154.5" y="0"/><use href="#n" x="215.8" y="0"/><use href="#n" x="338.3" y="0"/><use href="#n" x="399.5" y="0"/><use href="#n" x="460.8" y="0"/><use href="#n" x="583.3" y="0"/><use href="#n" x="613.9" y="0"/><use href="#n" x="675.1" y="0"/><use href="#n" x="767" y="0"/></g>
<g class="R"><use href="#n" x="705.8" y="15"/><use href="#n" x="828.3" y="15"/><use href="#n" x="858.9" y="15"/><use href="#s" x="889.5" y="15"/><use href="#s" x="920.1" y="15"/><use href="#s" x="950.8" y="15"/><use href="#s" x="981.4" y="15"/></g>
<rect class="gr" x="889.5" y="0" width="122.5" height="60"/>
</g>

<g id="row-21" transform="translate(0,3025.5)">
<rect class="yb" x="32" y="-10.8" width="91.9" height="81.6"/>
<use href="#staff"/>
<use href="#tg" x="32" y="-21"/><use href="#tg" x="277" y="-21"/><use href="#tg" x="522" y="-21"/><use href="#tg" x="767" y="-21"/>
<text class="tp" y="-20"><tspan x="36.8">=178</tspan><tspan x="281.8">=172</tspan><tspan x="526.8">=169</tspan><tspan x="771.8">=177</tspan></text>
<text class="mn" y="-6.5"><tspan x="32">81</tspan><tspan x="277">82</tspan><tspan x="522">83</tspan><tspan x="767">84</tspan></text>
<text class="bt b1" y="76"><tspan x="275.5">200</tspan><tspan x="520.5">200</tspan><tspan x="765.5">150</tspan><tspan x="1010.5">140</tspan></text>
<text class="bt b2" y="89.5"><tspan x="275.5">76259</tspan><tspan x="520.5">77459</tspan><tspan x="765.5">78359</tspan><tspan x="1010.5">79199</tspan></text>
<text class="bt b3" y="103"><tspan x="275.5">67.85%</tspan><tspan x="520.5">67.85%</tspan><tspan x="765.5">67.85%</tspan><tspan x="1010.5">67.85%</tspan></text>
<rect class="G" x="767" y="-3.5" width="229.7" height="7"/><rect class="Y" x="767" y="26.5" width="229.7" height="7"/>
<g class="R"><use href="#n" x="154.5" y="15"/><use href="#n" x="185.1" y="15"/><use href="#n" x="215.8" y="15"/><use href="#n" x="246.4" y="15"/><use href="#n" x="277" y="15"/><use href="#n" x="307.6" y="15"/><use href="#n" x="338.3" y="15"/><use href="#n" x="368.9" y="15"/><use href="#n" x="399.5" y="15"/><use href="#n" x="430.1" y="15"/><use href="#n" x="460.8" y="15"/><use href="#n" x="491.4" y="15"/><use href="#n" x="522" y="15"/><use href="#n" x="552.6" y="15"/><use href="#n" x="583.3" y="15"/><use href="#s" x="32" y="15"/><use href="#s" x="62.6" y="15"/><use href="#s" x="93.3" y="15"/><use href="#s" x="123.9" y="15"/></g>
<g class="G"><use href="#n" x="613.9" y="0"/><use href="#n" x="675.1" y="0"/><use href="#n" x="736.4" y="0"/><use href="#n" x="767" y="0"/></g>
<g class="Y"><use href="#n" x="767" y="30"/></g>
<rect class="gr" x="32" y="0" width="91.9" height="60"/>
</g>

<g id="row-22" transform="translate(0,3166.5)">
<use href="#staff"/>
<use href="#tg" x="32" y="-21"/><use href="#tg" x="277" y="-21"/><use href="#tg" x="522" y="-21"/><use href="#tg" x="767" y="-21"/>
<text class="tp" y="-20"><tspan x="36.8">=172</tspan><tspan x="281.8">=171</tspan><tspan x="526.8">=178</tspan><tspan x="771.8">=177</tspan></text>
<text class="mn" y="-6.5"><tspan x="32">85</tspan><tspan x="277">86</tspan><tspan x="522">87</tspan><tspan x="767">88</tspan></text>
<text class="bt b1" y="76"><tspan x="275.5">140</tspan><tspan x="520.5">150</tspan><tspan x="765.5">150</tspan><tspan x="1010.5">140</tspan></text>
<text class="bt b2" y="89.5"><tspan x="275.5">80039</tspan><tspan x="520.5">80939</tspan><tspan x="765.5">81839</tspan><tspan x="1010.5">82679</tspan></text>
<text class="bt b3" y="103"><tspan x="275.5">67.85%</tspan><tspan x="520.5">67.85%</tspan><tspan x="765.5">67.85%</tspan><tspan x="1010.5">67.85%</tspan></text>
<rect class="G" x="32" y="-3.5" width="229.7" height="7"/><rect class="R" x="32" y="11.5" width="229.7" height="7"/><rect class="G" x="767" y="-3.5" width="229.7" height="7"/><rect class="Y" x="767" y="26.5" width="229.7" height="7"/>
<g class="G"><use href="#n" x="32" y="0"/><use href="#n" x="767" y="0"/></g>
<g class="R"><use href="#n" x="32" y="15"/></g>
<g class="Y"><use href="#n" x="767" y="30"/></g>
<g class="O"><use href="#n" x="277" y="60"/><use href="#n" x="368.9" y="60"/><use href="#n" x="460.8" y="60"/><use href="#n" x="552.6" y="60"/><use href="#n" x="644.5" y="60"/><use href="#n" x="705.8" y="60"/></g>
<g class="B"><use href="#n" x="307.6" y="45"/><use href="#n" x="399.5" y="45"/><use href="#n" x="491.4" y="45"/><use href="#n" x="583.3" y="45"/><use href="#n" x="675.1" y="45"/><use href="#n" x="736.4" y="45"/></g>
</g>

<g id="row-23" transform="translate(0,3307.5)">
<use href="#staff"/>
<use href="#tg" x="32" y="-21"/><use href="#tg" x="277" y="-21"/><use href="#tg" x="522" y="-21"/><use href="#tg" x="767" y="-21"/>
<text class="tp" y="-20"><tspan x="36.8">=172</tspan><tspan x="281.8">=183</tspan><tspan x="526.8">=182</tspan><tspan x="771.8">=167</tspan></text>
<text class="mn" y="-6.5"><tspan x="32">89</tspan><tspan x="277">90</tspan><tspan x="522">91</tspan><tspan x="767">92</tspan></text>
<text class="bt b1" y="76"><tspan x="275.5">140</tspan><tspan x="520.5">150</tspan><tspan x="765.5">127</tspan><tspan x="1010.5">184</tspan></text>
<text class="bt b2" y="89.5"><tspan x="275.5">83519</tspan><tspan x="520.5">84419</tspan><tspan x="765.5">85181</tspan><tspan x="1010.5">86939</tspan></text>
<text class="bt b3" y="103"><tspan x="275.5">67.85%</tspan><tspan x="520.5">67.85%</tspan><tspan x="765.5">67.85%</tspan><tspan x="1010.5">60.45%</tspan></text>
<rect class="G" x="32" y="-3.5" width="229.7" height="7"/><rect class="R" x="32" y="11.5" width="229.7" height="7"/><rect class="G" x="583.3" y="-3.5" width="61.3" height="7"/><rect class="Y" x="659.8" y="26.5" width="76.6" height="7"/><rect class="R" x="858.9" y="11.5" width="45.9" height="7"/>
<g class="G"><use href="#n" x="32" y="0"/><use href="#n" x="307.6" y="0"/><use href="#n" x="399.5" y="0"/><use href="#n" x="491.4" y="0"/><use href="#n" x="583.3" y="0"/><use href="#n" x="767" y="0"/></g>
<g class="R"><use href="#n" x="32" y="15"/><use href="#n" x="277" y="15"/><use href="#n" x="368.9" y="15"/><use href="#n" x="460.8" y="15"/><use href="#n" x="552.6" y="15"/><use href="#n" x="644.5" y="15"/><use href="#n" x="797.6" y="15"/><use href="#n" x="828.3" y="15"/><use href="#n" x="858.9" y="15"/><use href="#n" x="920.1" y="15"/><use href="#n" x="950.8" y="15"/><use href="#n" x="981.4" y="15"/></g>
<g class="Y"><use href="#n" x="659.8" y="30"/></g>
<rect class="rd" x="858.7" y="0" width="6" height="60"/>
<rect class="bl" x="864.7" y="0" width="147.3" height="60"/>
</g>

<g id="row-24" transform="translate(0,3448.5)">
<use href="#staff"/>
<use href="#tg" x="32" y="-21"/><use href="#tg" x="277" y="-21"/><use href="#tg" x="522" y="-21"/><use href="#tg" x="767" y="-21"/>
<text class="tp" y="-20"><tspan x="36.8">=172</tspan><tspan x="281.8">=179</tspan><tspan x="526.8">=177</tspan><tspan x="771.8">=177</tspan></text>
<text class="mn" y="-6.5"><tspan x="32">93</tspan><tspan x="277">94</tspan><tspan x="522">95</tspan><tspan x="767">96</tspan></text>
<text class="bt b1" y="76"><tspan x="275.5">184</tspan><tspan x="520.5">150</tspan><tspan x="765.5">150</tspan><tspan x="1010.5">200</tspan></text>
<text class="bt b2" y="89.5"><tspan x="275.5">89147</tspan><tspan x="520.5">91097</tspan><tspan x="765.5">92747</tspan><tspan x="1010.5">95147</tspan></text>
<text class="bt b3" y="103"><tspan x="275.5">47.95%</tspan><tspan x="520.5">60.45%</tspan><tspan x="765.5">47.95%</tspan><tspan x="1010.5">35.45%</tspan></text>
<rect class="R" x="123.9" y="11.5" width="45.9" height="7"/>
<g class="G"><use href="#n" x="32" y="0"/><use href="#n" x="889.5" y="0"/></g>
<g class="R"><use href="#n" x="62.6" y="15"/><use href="#n" x="93.3" y="15"/><use href="#n" x="123.9" y="15"/><use href="#n" x="185.1" y="15"/><use href="#n" x="767" y="15"/><use href="#n" x="797.6" y="15"/><use href="#n" x="828.3" y="15"/><use href="#n" x="858.9" y="15"/><use href="#n" x="981.4" y="15"/><use href="#s" x="215.8" y="15"/><use href="#s" x="246.4" y="15"/></g>
<g class="B"><use href="#n" x="460.8" y="45"/><use href="#n" x="613.9" y="45"/><use href="#n" x="736.4" y="45"/><use href="#n" x="920.1" y="45"/><use href="#s" x="277" y="45"/><use href="#s" x="338.3" y="45"/><use href="#s" x="399.5" y="45"/></g>
<g class="O"><use href="#n" x="491.4" y="60"/><use href="#s" x="368.9" y="60"/></g>
<g class="Y"><use href="#n" x="522" y="30"/><use href="#n" x="583.3" y="30"/><use href="#n" x="644.5" y="30"/><use href="#n" x="705.8" y="30"/><use href="#n" x="950.8" y="30"/></g>
<rect class="gr" x="215.8" y="0" width="183.7" height="60"/>
<rect class="bl" x="32" y="0" width="980" height="60"/>
</g>

<g id="row-25" transform="translate(0,3589.5)">
<use href="#staff"/>
<use href="#tg" x="32" y="-21"/><use href="#tg" x="277" y="-21"/><use href="#tg" x="522" y="-21"/><use href="#tg" x="767" y="-21"/>
<text class="tp" y="-20"><tspan x="36.8">=181</tspan><tspan x="281.8">=181</tspan><tspan x="526.8">=184</tspan><tspan x="771.8">=180</tspan></text>
<text class="mn" y="-6.5"><tspan x="32">97</tspan><tspan x="277">98</tspan><tspan x="522">99</tspan><tspan x="767">100</tspan></text>
<text class="bt b1" y="76"><tspan x="275.5">175</tspan><tspan x="520.5">150</tspan><tspan x="765.5">150</tspan><tspan x="1010.5">200</tspan></text>
<text class="bt b2" y="89.5"><tspan x="275.5">97247</tspan><tspan x="520.5">99047</tspan><tspan x="765.5">100997</tspan><tspan x="1010.5">103247</tspan></text>
<text class="bt b3" y="103"><tspan x="275.5">22.95%</tspan><tspan x="520.5">10.45%</tspan><tspan x="765.5">0.00%</tspan><tspan x="1010.5">0.00%</tspan></text>
<g class="G"><use href="#n" x="32" y="0"/><use href="#n" x="123.9" y="0"/><use href="#n" x="246.4" y="0"/><use href="#n" x="889.5" y="0"/></g>
<g class="R"><use href="#n" x="93.3" y="15"/><use href="#n" x="154.5" y="15"/><use href="#n" x="215.8" y="15"/><use href="#n" x="767" y="15"/><use href="#n" x="797.6" y="15"/><use href="#n" x="828.3" y="15"/><use href="#n" x="858.9" y="15"/><use href="#n" x="981.4" y="15"/></g>
<g class="Y"><use href="#n" x="185.1" y="30"/><use href="#n" x="522" y="30"/><use href="#n" x="583.3" y="30"/><use href="#n" x="644.5" y="30"/><use href="#n" x="705.8" y="30"/><use href="#n" x="950.8" y="30"/></g>
<g class="B"><use href="#n" x="277" y="45"/><use href="#n" x="338.3" y="45"/><use href="#n" x="399.5" y="45"/><use href="#n" x="460.8" y="45"/><use href="#n" x="613.9" y="45"/><use href="#n" x="736.4" y="45"/><use href="#n" x="920.1" y="45"/></g>
<g class="O"><use href="#n" x="368.9" y="60"/><use href="#n" x="491.4" y="60"/></g>
<rect class="bl" x="32" y="0" width="980" height="60"/>
</g>

<g id="row-26" transform="translate(0,3730.5)">
<use href="#staff"/>
<use href="#tg" x="32" y="-21"/><use href="#tg" x="277" y="-21"/><use href="#tg" x="522" y="-21"/><use href="#tg" x="767" y="-21"/>
<text class="tp" y="-20"><tspan x="36.8">=182</tspan><tspan x="281.8">=182</tspan><tspan x="526.8">=186</tspan><tspan x="771.8">=174</tspan></text>
<text class="mn" y="-6.5"><tspan x="32">101</tspan><tspan x="277">102</tspan><tspan x="522">103</tspan><tspan x="767">104</tspan></text>
<text class="bt b1" y="76"><tspan x="275.5">175</tspan><tspan x="520.5">150</tspan><tspan x="765.5">150</tspan><tspan x="1010.5">159</tspan></text>
<text class="bt b2" y="89.5"><tspan x="275.5">105347</tspan><tspan x="520.5">106247</tspan><tspan x="765.5">107147</tspan><tspan x="1010.5">108101</tspan></text>
<text class="bt b3" y="103"><tspan x="275.5">0.00%</tspan><tspan x="520.5">0.00%</tspan><tspan x="765.5">0.00%</tspan><tspan x="1010.5">0.00%</tspan></text>
<rect class="R" x="858.9" y="11.5" width="45.9" height="7"/>
<g class="G"><use href="#n" x="32" y="0"/><use href="#n" x="123.9" y="0"/><use href="#n" x="246.4" y="0"/><use href="#n" x="950.8" y="0"/><use href="#n" x="981.4" y="0"/></g>
<g class="R"><use href="#n" x="93.3" y="15"/><use href="#n" x="154.5" y="15"/><use href="#n" x="215.8" y="15"/><use href="#n" x="797.6" y="15"/><use href="#n" x="828.3" y="15"/><use href="#n" x="858.9" y="15"/><use href="#n" x="920.1" y="15"/></g>
<g class="Y"><use href="#n" x="185.1" y="30"/><use href="#n" x="522" y="30"/><use href="#n" x="583.3" y="30"/><use href="#n" x="644.5" y="30"/><use href="#n" x="705.8" y="30"/></g>
<g class="B"><use href="#n" x="277" y="45"/><use href="#n" x="338.3" y="45"/><use href="#n" x="399.5" y="45"/><use href="#n" x="460.8" y="45"/><use href="#n" x="613.9" y="45"/><use href="#n" x="736.4" y="45"/></g>
<g class="O"><use href="#n" x="368.9" y="60"/><use href="#n" x="491.4" y="60"/></g>
<rect class="bl" x="32" y="0" width="203.3" height="60"/>
<rect class="rd" x="235.3" y="0" width="11.3" height="60"/>
</g>

<g id="row-27" transform="translate(0,3871.5)">
<rect class="yb" x="32" y="-10.8" width="214.4" height="81.6"/>
<use href="#staff"/>
<use href="#tg" x="32" y="-21"/><use href="#tg" x="277" y="-21"/><use href="#tg" x="522" y="-21"/><use href="#tg" x="767" y="-21"/>
<text class="tp" y="-20"><tspan x="36.8">=176</tspan><tspan x="281.8">=179</tspan><tspan x="526.8">=161</tspan><tspan x="771.8">=175</tspan></text>
<text class="mn" y="-6.5"><tspan x="32">105</tspan><tspan x="277">106</tspan><tspan x="522">107</tspan><tspan x="767">108</tspan></text>
<text class="bt b1" y="76"><tspan x="275.5">184</tspan><tspan x="520.5">150</tspan><tspan x="765.5">159</tspan><tspan x="1010.5">111</tspan></text>
<text class="bt b2" y="89.5"><tspan x="275.5">109205</tspan><tspan x="520.5">110855</tspan><tspan x="765.5">112763</tspan><tspan x="1010.5">114095</tspan></text>
<text class="bt b3" y="103"><tspan x="275.5">27.55%</tspan><tspan x="520.5">18.40%</tspan><tspan x="765.5">5.90%</tspan><tspan x="1010.5">0.00%</tspan></text>
<rect class="R" x="123.9" y="11.5" width="45.9" height="7"/><rect class="Y" x="644.5" y="26.5" width="45.9" height="7"/><rect class="R" x="828.3" y="11.5" width="183.7" height="7"/>
<g class="B"><use href="#n" x="277" y="45"/><use href="#n" x="338.3" y="45"/><use href="#n" x="399.5" y="45"/><use href="#n" x="460.8" y="45"/><use href="#n" x="613.9" y="45"/></g>
<g class="O"><use href="#n" x="368.9" y="60"/><use href="#n" x="491.4" y="60"/></g>
<g class="Y"><use href="#n" x="522" y="30"/><use href="#n" x="583.3" y="30"/><use href="#n" x="644.5" y="30"/></g>
<g class="R"><use href="#n" x="690.4" y="15"/><use href="#n" x="782.3" y="15"/><use href="#n" x="828.3" y="15"/><use href="#s" x="47.3" y="15"/><use href="#s" x="93.3" y="15"/><use href="#s" x="123.9" y="15"/><use href="#s" x="185.1" y="15"/><use href="#s" x="246.4" y="15"/></g>
<g class="G"><use href="#n" x="705.8" y="0"/><use href="#n" x="767" y="0"/><use href="#s" x="32" y="0"/><use href="#s" x="215.8" y="0"/></g>
<rect class="gr" x="32" y="0" width="214.4" height="60"/>
<rect class="rd" x="338" y="0" width="4.7" height="60"/>
<rect class="bl" x="342.7" y="0" width="669.3" height="60"/>
</g>

<g id="row-28" transform="translate(0,4012.5)">
<use href="#staff"/>
<use href="#tg" x="32" y="-21"/><use href="#tg" x="277" y="-21"/><use href="#tg" x="522" y="-21"/><use href="#tg" x="767" y="-21"/>
<text class="tp" y="-20"><tspan x="36.8">=175</tspan><tspan x="281.8">=178</tspan><tspan x="526.8">=182</tspan><tspan x="771.8">=178</tspan></text>
<text class="mn" y="-6.5"><tspan x="32">109</tspan><tspan x="277">110</tspan><tspan x="522">111</tspan><tspan x="767">112</tspan></text>
<text class="bt b1" y="76"><tspan x="275.5">183</tspan><tspan x="520.5">149</tspan><tspan x="765.5">178</tspan><tspan x="1010.5">115</tspan></text>
<text class="bt b2" y="89.5"><tspan x="275.5">116291</tspan><tspan x="520.5">117935</tspan><tspan x="765.5">119003</tspan><tspan x="1010.5">119693</tspan></text>
<text class="bt b3" y="103"><tspan x="275.5">0.00%</tspan><tspan x="520.5">0.00%</tspan><tspan x="765.5">0.00%</tspan><tspan x="1010.5">0.00%</tspan></text>
<rect class="R" x="32" y="11.5" width="15.3" height="7"/><rect class="R" x="93.3" y="11.5" width="76.6" height="7"/><rect class="B" x="93.3" y="41.5" width="76.6" height="7"/><rect class="O" x="399.5" y="56.5" width="137.8" height="7"/><rect class="G" x="828.3" y="-3.5" width="76.6" height="7"/>
<g class="R"><use href="#n" x="62.6" y="15"/><use href="#n" x="93.3" y="15"/><use href="#n" x="185.1" y="15"/><use href="#n" x="246.4" y="15"/><use href="#n" x="277" y="15"/><use href="#n" x="644.5" y="15"/><use href="#n" x="705.8" y="15"/><use href="#n" x="767" y="15"/><use href="#n" x="920.1" y="15"/></g>
<g class="B"><use href="#n" x="93.3" y="45"/><use href="#n" x="246.4" y="45"/><use href="#n" x="277" y="45"/><use href="#n" x="353.6" y="45"/><use href="#n" x="583.3" y="45"/></g>
<g class="Y"><use href="#n" x="338.3" y="30"/><use href="#n" x="613.9" y="30"/><use href="#n" x="736.4" y="30"/></g>
<g class="O"><use href="#n" x="399.5" y="60"/><use href="#n" x="552.6" y="60"/></g>
<g class="G"><use href="#n" x="675.1" y="0"/><use href="#n" x="828.3" y="0"/><use href="#n" x="981.4" y="0"/></g>
<rect class="bl" x="32" y="0" width="360.7" height="60"/>
<rect class="rd" x="392.7" y="0" width="6.8" height="60"/>
</g>

<g id="row-29" transform="translate(0,4153.5)">
<use href="#staff"/>
<use href="#tg" x="32" y="-21"/><use href="#tg" x="277" y="-21"/><use href="#tg" x="522" y="-21"/><use href="#tg" x="767" y="-21"/>
<text class="tp" y="-20"><tspan x="36.8">=176</tspan><tspan x="281.8">=177</tspan><tspan x="526.8">=177</tspan><tspan x="771.8">=174</tspan></text>
<text class="mn" y="-6.5"><tspan x="32">113</tspan><tspan x="277">114</tspan><tspan x="522">115</tspan><tspan x="767">116</tspan></text>
<text class="bt b1" y="76"><tspan x="275.5">96</tspan><tspan x="520.5">127</tspan><tspan x="765.5">128</tspan><tspan x="1010.5">150</tspan></text>
<text class="bt b2" y="89.5"><tspan x="275.5">120269</tspan><tspan x="520.5">121031</tspan><tspan x="765.5">121799</tspan><tspan x="1010.5">122699</tspan></text>
<text class="bt b3" y="103"><tspan x="275.5">0.00%</tspan><tspan x="520.5">3.40%</tspan><tspan x="765.5">29.25%</tspan><tspan x="1010.5">29.25%</tspan></text>
<rect class="O" x="154.5" y="56.5" width="107.2" height="7"/><rect class="G" x="277" y="-3.5" width="76.6" height="7"/><rect class="O" x="460.8" y="56.5" width="76.6" height="7"/>
<g class="O"><use href="#n" x="62.6" y="60"/><use href="#n" x="154.5" y="60"/><use href="#s" x="460.8" y="60"/><use href="#s" x="552.6" y="60"/></g>
<g class="Y"><use href="#n" x="93.3" y="30"/><use href="#n" x="736.4" y="30"/><use href="#n" x="767" y="30"/><use href="#n" x="797.6" y="30"/><use href="#n" x="920.1" y="30"/></g>
<g class="G"><use href="#n" x="277" y="0"/><use href="#n" x="368.9" y="0"/><use href="#s" x="399.5" y="0"/></g>
<g class="B"><use href="#n" x="644.5" y="45"/><use href="#n" x="705.8" y="45"/><use href="#n" x="858.9" y="45"/></g>
<g class="R"><use href="#n" x="828.3" y="15"/><use href="#n" x="981.4" y="15"/><use href="#s" x="583.3" y="15"/></g>
<rect class="gr" x="399.5" y="0" width="183.8" height="60"/>
</g>

<g id="row-30" transform="translate(0,4294.5)">
<use href="#staff"/>
<use href="#tg" x="32" y="-21"/><use href="#tg" x="277" y="-21"/><use href="#tg" x="522" y="-21"/><use href="#tg" x="767" y="-21"/>
<text class="tp" y="-20"><tspan x="36.8">=173</tspan><tspan x="281.8">=175</tspan><tspan x="526.8">=172</tspan><tspan x="771.8">=173</tspan></text>
<text class="mn" y="-6.5"><tspan x="32">117</tspan><tspan x="277">118</tspan><tspan x="522">119</tspan><tspan x="767">120</tspan></text>
<text class="bt b1" y="76"><tspan x="275.5">150</tspan><tspan x="520.5">150</tspan><tspan x="765.5">150</tspan><tspan x="1010.5">125</tspan></text>
<text class="bt b2" y="89.5"><tspan x="275.5">123599</tspan><tspan x="520.5">124499</tspan><tspan x="765.5">125399</tspan><tspan x="1010.5">126149</tspan></text>
<text class="bt b3" y="103"><tspan x="275.5">29.25%</tspan><tspan x="520.5">29.25%</tspan><tspan x="765.5">29.25%</tspan><tspan x="1010.5">29.25%</tspan></text>
<g class="R"><use href="#n" x="62.6" y="15"/><use href="#n" x="93.3" y="15"/><use href="#n" x="338.3" y="15"/><use href="#n" x="491.4" y="15"/><use href="#n" x="552.6" y="15"/><use href="#n" x="583.3" y="15"/><use href="#n" x="797.6" y="15"/><use href="#n" x="981.4" y="15"/></g>
<g class="Y"><use href="#n" x="123.9" y="30"/><use href="#n" x="154.5" y="30"/><use href="#n" x="277" y="30"/><use href="#n" x="307.6" y="30"/><use href="#n" x="430.1" y="30"/><use href="#n" x="613.9" y="30"/><use href="#n" x="644.5" y="30"/><use href="#n" x="767" y="30"/><use href="#n" x="920.1" y="30"/></g>
<g class="B"><use href="#n" x="185.1" y="45"/><use href="#n" x="215.8" y="45"/><use href="#n" x="368.9" y="45"/><use href="#n" x="675.1" y="45"/><use href="#n" x="705.8" y="45"/><use href="#n" x="858.9" y="45"/></g>
</g>

<g id="row-31" transform="translate(0,4435.5)">
<use href="#staff"/>
<use href="#tg" x="32" y="-21"/><use href="#tg" x="277" y="-21"/><use href="#tg" x="522" y="-21"/><use href="#tg" x="767" y="-21"/>
<text class="tp" y="-20"><tspan x="36.8">=178</tspan><tspan x="281.8">=177</tspan><tspan x="526.8">=175</tspan><tspan x="771.8">=180</tspan></text>
<text class="mn" y="-6.5"><tspan x="32">121</tspan><tspan x="277">122</tspan><tspan x="522">123</tspan><tspan x="767">124</tspan></text>
<text class="bt b1" y="76"><tspan x="275.5">175</tspan><tspan x="520.5">150</tspan><tspan x="765.5">150</tspan><tspan x="1010.5">125</tspan></text>
<text class="bt b2" y="89.5"><tspan x="275.5">127199</tspan><tspan x="520.5">128099</tspan><tspan x="765.5">128999</tspan><tspan x="1010.5">129749</tspan></text>
<text class="bt b3" y="103"><tspan x="275.5">29.25%</tspan><tspan x="520.5">29.25%</tspan><tspan x="765.5">29.25%</tspan><tspan x="1010.5">29.25%</tspan></text>
<g class="R"><use href="#n" x="62.6" y="15"/><use href="#n" x="93.3" y="15"/><use href="#n" x="338.3" y="15"/><use href="#n" x="491.4" y="15"/><use href="#n" x="552.6" y="15"/><use href="#n" x="583.3" y="15"/><use href="#n" x="981.4" y="15"/></g>
<g class="Y"><use href="#n" x="123.9" y="30"/><use href="#n" x="154.5" y="30"/><use href="#n" x="246.4" y="30"/><use href="#n" x="277" y="30"/><use href="#n" x="307.6" y="30"/><use href="#n" x="430.1" y="30"/><use href="#n" x="613.9" y="30"/><use href="#n" x="644.5" y="30"/><use href="#n" x="767" y="30"/><use href="#n" x="797.6" y="30"/><use href="#n" x="920.1" y="30"/></g>
<g class="B"><use href="#n" x="185.1" y="45"/><use href="#n" x="215.8" y="45"/><use href="#n" x="368.9" y="45"/><use href="#n" x="675.1" y="45"/><use href="#n" x="705.8" y="45"/><use href="#n" x="858.9" y="45"/></g>
</g>

<g id="row-32" transform="translate(0,4576.5)">
<use href="#staff"/>
<use href="#tg" x="277" y="-21"/><use href="#tg" x="518.5" y="-21"/><use href="#tg" x="767" y="-21"/><use href="#tg" x="1008" y="-21"/>
<text class="tp" y="-20"><tspan x="281.8">=182</tspan><tspan x="523.3">=180</tspan><tspan x="771.8">=175</tspan><tspan x="1012.8">=174</tspan></text>
<text class="mn" y="-6.5"><tspan x="32">125</tspan><tspan x="277">126</tspan><tspan x="522">127</tspan><tspan x="767">128</tspan></text>
<text class="bt b1" y="76"><tspan x="275.5">0</tspan><tspan x="520.5">125</tspan><tspan x="765.5">0</tspan><tspan x="1010.5">125</tspan></text>
<text class="bt b2" y="89.5"><tspan x="275.5">129749</tspan><tspan x="520.5">130499</tspan><tspan x="765.5">130499</tspan><tspan x="1010.5">131249</tspan></text>
<text class="bt b3" y="103"><tspan x="275.5">29.25%</tspan><tspan x="520.5">29.25%</tspan><tspan x="765.5">29.25%</tspan><tspan x="1010.5">29.25%</tspan></text>
<g class="Y"><use href="#n" x="277" y="30"/><use href="#n" x="307.6" y="30"/><use href="#n" x="430.1" y="30"/><use href="#n" x="767" y="30"/><use href="#n" x="797.6" y="30"/><use href="#n" x="920.1" y="30"/></g>
<g class="B"><use href="#n" x="368.9" y="45"/><use href="#n" x="858.9" y="45"/></g>
<g class="R"><use href="#n" x="491.4" y="15"/><use href="#n" x="981.4" y="15"/></g>
</g>

<g id="row-33" transform="translate(0,4717.5)">
<use href="#staff"/>
<use href="#tg" x="277" y="-21"/><use href="#tg" x="522" y="-21"/><use href="#tg" x="767" y="-21"/>
<text class="tp" y="-20"><tspan x="281.8">=172</tspan><tspan x="526.8">=174</tspan><tspan x="771.8">=178</tspan></text>
<text class="mn" y="-6.5"><tspan x="32">129</tspan><tspan x="277">130</tspan><tspan x="522">131</tspan><tspan x="767">132</tspan></text>
<text class="bt b1" y="76"><tspan x="275.5">121</tspan><tspan x="520.5">125</tspan><tspan x="765.5">114</tspan><tspan x="1010.5">150</tspan></text>
<text class="bt b2" y="89.5"><tspan x="275.5">131975</tspan><tspan x="520.5">132725</tspan><tspan x="765.5">133409</tspan><tspan x="1010.5">134309</tspan></text>
<text class="bt b3" y="103"><tspan x="275.5">60.20%</tspan><tspan x="520.5">60.20%</tspan><tspan x="765.5">60.20%</tspan><tspan x="1010.5">60.20%</tspan></text>
<rect class="B" x="139.2" y="41.5" width="107.2" height="7"/><rect class="O" x="552.6" y="56.5" width="199.1" height="7"/>
<g class="Y"><use href="#n" x="277" y="30"/><use href="#n" x="307.6" y="30"/><use href="#n" x="430.1" y="30"/><use href="#n" x="522" y="30"/><use href="#n" x="767" y="30"/><use href="#n" x="797.6" y="30"/><use href="#n" x="920.1" y="30"/><use href="#s" x="123.9" y="30"/></g>
<g class="B"><use href="#n" x="368.9" y="45"/><use href="#n" x="537.3" y="45"/><use href="#n" x="858.9" y="45"/><use href="#s" x="139.2" y="45"/></g>
<g class="R"><use href="#n" x="491.4" y="15"/><use href="#n" x="828.3" y="15"/><use href="#n" x="981.4" y="15"/><use href="#s" x="108.6" y="15"/></g>
<g class="O"><use href="#n" x="552.6" y="60"/></g>
<g class="G"><use href="#s" x="93.3" y="0"/></g>
<rect class="gr" x="93.3" y="0" width="153.1" height="60"/>
</g>

<g id="row-34" transform="translate(0,4858.5)">
<use href="#staff"/>
<use href="#tg" x="32" y="-21"/><use href="#tg" x="277" y="-21"/><use href="#tg" x="522" y="-21"/><use href="#tg" x="767" y="-21"/>
<text class="tp" y="-20"><tspan x="36.8">=176</tspan><tspan x="281.8">=178</tspan><tspan x="526.8">=170</tspan><tspan x="771.8">=174</tspan></text>
<text class="mn" y="-6.5"><tspan x="32">133</tspan><tspan x="277">134</tspan><tspan x="522">135</tspan><tspan x="767">136</tspan></text>
<text class="bt b1" y="76"><tspan x="275.5">175</tspan><tspan x="520.5">150</tspan><tspan x="765.5">150</tspan><tspan x="1010.5">150</tspan></text>
<text class="bt b2" y="89.5"><tspan x="275.5">136409</tspan><tspan x="520.5">138209</tspan><tspan x="765.5">140009</tspan><tspan x="1010.5">141809</tspan></text>
<text class="bt b3" y="103"><tspan x="275.5">49.57%</tspan><tspan x="520.5">37.07%</tspan><tspan x="765.5">24.57%</tspan><tspan x="1010.5">12.07%</tspan></text>
<g class="R"><use href="#n" x="62.6" y="15"/><use href="#n" x="93.3" y="15"/><use href="#n" x="338.3" y="15"/><use href="#n" x="491.4" y="15"/><use href="#n" x="552.6" y="15"/><use href="#n" x="583.3" y="15"/><use href="#n" x="828.3" y="15"/><use href="#n" x="981.4" y="15"/></g>
<g class="Y"><use href="#n" x="123.9" y="30"/><use href="#n" x="154.5" y="30"/><use href="#n" x="246.4" y="30"/><use href="#n" x="277" y="30"/><use href="#n" x="307.6" y="30"/><use href="#n" x="430.1" y="30"/><use href="#n" x="613.9" y="30"/><use href="#n" x="644.5" y="30"/><use href="#n" x="767" y="30"/><use href="#n" x="797.6" y="30"/><use href="#n" x="920.1" y="30"/></g>
<g class="B"><use href="#n" x="185.1" y="45"/><use href="#n" x="215.8" y="45"/><use href="#n" x="368.9" y="45"/><use href="#n" x="675.1" y="45"/><use href="#n" x="705.8" y="45"/><use href="#n" x="858.9" y="45"/></g>
<rect class="rd" x="62.7" y="0" width="4.7" height="60"/>
<rect class="bl" x="67.3" y="0" width="944.7" height="60"/>
</g>

<g id="row-35" transform="translate(0,4999.5)">
<rect class="yb" x="920.1" y="-10.8" width="91.9" height="81.6"/>
<use href="#staff"/>
<use href="#tg" x="32" y="-21"/><use href="#tg" x="277" y="-21"/><use href="#tg" x="522" y="-21"/><use href="#tg" x="767" y="-21"/>
<text class="tp" y="-20"><tspan x="36.8">=175</tspan><tspan x="281.8">=176</tspan><tspan x="526.8">=176</tspan><tspan x="771.8">=169</tspan></text>
<text class="mn" y="-6.5"><tspan x="32">137</tspan><tspan x="277">138</tspan><tspan x="522">139</tspan><tspan x="767">140</tspan></text>
<text class="bt b1" y="76"><tspan x="275.5">175</tspan><tspan x="520.5">150</tspan><tspan x="765.5">150</tspan><tspan x="1010.5">150</tspan></text>
<text class="bt b2" y="89.5"><tspan x="275.5">143909</tspan><tspan x="520.5">144959</tspan><tspan x="765.5">145859</tspan><tspan x="1010.5">146759</tspan></text>
<text class="bt b3" y="103"><tspan x="275.5">0.00%</tspan><tspan x="520.5">0.00%</tspan><tspan x="765.5">0.00%</tspan><tspan x="1010.5">0.00%</tspan></text>
<g class="R"><use href="#n" x="62.6" y="15"/><use href="#n" x="93.3" y="15"/><use href="#n" x="338.3" y="15"/><use href="#n" x="491.4" y="15"/><use href="#n" x="552.6" y="15"/><use href="#n" x="583.3" y="15"/><use href="#n" x="828.3" y="15"/><use href="#s" x="981.4" y="15"/></g>
<g class="Y"><use href="#n" x="123.9" y="30"/><use href="#n" x="154.5" y="30"/><use href="#n" x="246.4" y="30"/><use href="#n" x="277" y="30"/><use href="#n" x="307.6" y="30"/><use href="#n" x="430.1" y="30"/><use href="#n" x="613.9" y="30"/><use href="#n" x="644.5" y="30"/><use href="#n" x="767" y="30"/><use href="#n" x="797.6" y="30"/><use href="#s" x="920.1" y="30"/></g>
<g class="B"><use href="#n" x="185.1" y="45"/><use href="#n" x="215.8" y="45"/><use href="#n" x="368.9" y="45"/><use href="#n" x="675.1" y="45"/><use href="#n" x="705.8" y="45"/><use href="#n" x="858.9" y="45"/></g>
<rect class="bl" x="32" y="0" width="236.7" height="60"/>
<rect class="rd" x="268.7" y="0" width="8.3" height="60"/>
<rect class="gr" x="920.1" y="0" width="91.9" height="60"/>
</g>

<g id="row-36" transform="translate(0,5140.5)">
<rect class="yb" x="32" y="-10.8" width="107.2" height="81.6"/>
<use href="#staff"/>
<use href="#tg" x="32" y="-21"/><use href="#tg" x="277" y="-21"/><use href="#tg" x="522" y="-21"/><use href="#tg" x="767" y="-21"/>
<text class="tp" y="-20"><tspan x="36.8">=172</tspan><tspan x="281.8">=181</tspan><tspan x="526.8">=176</tspan><tspan x="771.8">=183</tspan></text>
<text class="mn" y="-6.5"><tspan x="32">141</tspan><tspan x="277">142</tspan><tspan x="522">143</tspan><tspan x="767">144</tspan></text>
<text class="bt b1" y="76"><tspan x="275.5">175</tspan><tspan x="520.5">150</tspan><tspan x="765.5">175</tspan><tspan x="1010.5">150</tspan></text>
<text class="bt b2" y="89.5"><tspan x="275.5">147809</tspan><tspan x="520.5">148709</tspan><tspan x="765.5">149759</tspan><tspan x="1010.5">150659</tspan></text>
<text class="bt b3" y="103"><tspan x="275.5">25.00%</tspan><tspan x="520.5">25.00%</tspan><tspan x="765.5">25.00%</tspan><tspan x="1010.5">25.00%</tspan></text>
<g class="R"><use href="#n" x="185.1" y="15"/><use href="#n" x="200.4" y="15"/><use href="#n" x="246.4" y="15"/><use href="#n" x="338.3" y="15"/><use href="#n" x="491.4" y="15"/><use href="#n" x="552.6" y="15"/><use href="#n" x="583.3" y="15"/><use href="#n" x="613.9" y="15"/><use href="#n" x="629.2" y="15"/><use href="#n" x="675.1" y="15"/><use href="#n" x="690.4" y="15"/><use href="#n" x="736.4" y="15"/><use href="#n" x="828.3" y="15"/><use href="#n" x="981.4" y="15"/><use href="#s" x="62.6" y="15"/><use href="#s" x="77.9" y="15"/><use href="#s" x="123.9" y="15"/><use href="#s" x="139.2" y="15"/></g>
<g class="Y"><use href="#n" x="277" y="30"/><use href="#n" x="307.6" y="30"/><use href="#n" x="430.1" y="30"/><use href="#n" x="767" y="30"/><use href="#n" x="797.6" y="30"/><use href="#n" x="920.1" y="30"/></g>
<g class="B"><use href="#n" x="368.9" y="45"/><use href="#n" x="858.9" y="45"/></g>
<rect class="gr" x="32" y="0" width="107.2" height="60"/>
</g>

<g id="row-37" transform="translate(0,5281.5)">
<use href="#staff"/>
<use href="#tg" x="32" y="-21"/><use href="#tg" x="522" y="-21"/><use href="#tg" x="767" y="-21"/>
<text class="tp" y="-20"><tspan x="36.8">=184</tspan><tspan x="526.8">=185</tspan><tspan x="771.8">=189</tspan></text>
<text class="mn" y="-6.5"><tspan x="32">145</tspan><tspan x="277">146</tspan><tspan x="522">147</tspan><tspan x="767">148</tspan></text>
<text class="bt b1" y="76"><tspan x="275.5">200</tspan><tspan x="520.5">150</tspan><tspan x="765.5">150</tspan><tspan x="1010.5">150</tspan></text>
<text class="bt b2" y="89.5"><tspan x="275.5">151859</tspan><tspan x="520.5">152759</tspan><tspan x="765.5">153659</tspan><tspan x="1010.5">154559</tspan></text>
<text class="bt b3" y="103"><tspan x="275.5">25.00%</tspan><tspan x="520.5">25.00%</tspan><tspan x="765.5">25.00%</tspan><tspan x="1010.5">25.00%</tspan></text>
<g class="R"><use href="#n" x="32" y="15"/><use href="#n" x="62.6" y="15"/><use href="#n" x="93.3" y="15"/><use href="#n" x="123.9" y="15"/><use href="#n" x="154.5" y="15"/><use href="#n" x="185.1" y="15"/><use href="#n" x="215.8" y="15"/><use href="#n" x="338.3" y="15"/><use href="#n" x="491.4" y="15"/><use href="#n" x="552.6" y="15"/><use href="#n" x="767" y="15"/><use href="#n" x="828.3" y="15"/><use href="#n" x="858.9" y="15"/><use href="#n" x="920.1" y="15"/><use href="#n" x="950.8" y="15"/><use href="#n" x="981.4" y="15"/></g>
<g class="Y"><use href="#n" x="246.4" y="30"/><use href="#n" x="277" y="30"/><use href="#n" x="307.6" y="30"/><use href="#n" x="430.1" y="30"/></g>
<g class="B"><use href="#n" x="368.9" y="45"/></g>
<g class="O"><use href="#n" x="583.3" y="60"/><use href="#n" x="613.9" y="60"/><use href="#n" x="644.5" y="60"/><use href="#n" x="675.1" y="60"/><use href="#n" x="705.8" y="60"/></g>
</g>

<g id="row-38" transform="translate(0,5422.5)">
<use href="#staff"/>
<use href="#tg" x="32" y="-21"/><use href="#tg" x="277" y="-21"/><use href="#tg" x="522" y="-21"/><use href="#tg" x="760" y="-21"/>
<text class="tp" y="-20"><tspan x="36.8">=180</tspan><tspan x="281.8">=177</tspan><tspan x="526.8">=180</tspan><tspan x="764.8">=179</tspan></text>
<text class="mn" y="-6.5"><tspan x="32">149</tspan><tspan x="277">150</tspan><tspan x="522">151</tspan><tspan x="767">152</tspan></text>
<text class="bt b1" y="76"><tspan x="275.5">184</tspan><tspan x="520.5">150</tspan><tspan x="765.5">150</tspan><tspan x="1010.5">200</tspan></text>
<text class="bt b2" y="89.5"><tspan x="275.5">155663</tspan><tspan x="520.5">156563</tspan><tspan x="765.5">157463</tspan><tspan x="1010.5">158663</tspan></text>
<text class="bt b3" y="103"><tspan x="275.5">25.00%</tspan><tspan x="520.5">25.00%</tspan><tspan x="765.5">50.00%</tspan><tspan x="1010.5">50.00%</tspan></text>
<rect class="R" x="123.9" y="11.5" width="45.9" height="7"/>
<g class="G"><use href="#n" x="32" y="0"/><use href="#n" x="62.6" y="0"/><use href="#n" x="93.3" y="0"/><use href="#n" x="889.5" y="0"/></g>
<g class="R"><use href="#n" x="123.9" y="15"/><use href="#n" x="185.1" y="15"/><use href="#n" x="215.8" y="15"/><use href="#n" x="246.4" y="15"/><use href="#n" x="767" y="15"/><use href="#n" x="797.6" y="15"/><use href="#n" x="828.3" y="15"/><use href="#n" x="858.9" y="15"/><use href="#n" x="981.4" y="15"/></g>
<g class="B"><use href="#n" x="277" y="45"/><use href="#n" x="338.3" y="45"/><use href="#n" x="399.5" y="45"/><use href="#n" x="736.4" y="45"/><use href="#n" x="920.1" y="45"/><use href="#s" x="460.8" y="45"/><use href="#s" x="613.9" y="45"/></g>
<g class="O"><use href="#n" x="368.9" y="60"/><use href="#s" x="491.4" y="60"/></g>
<g class="Y"><use href="#n" x="705.8" y="30"/><use href="#n" x="950.8" y="30"/><use href="#s" x="522" y="30"/><use href="#s" x="583.3" y="30"/><use href="#s" x="644.5" y="30"/></g>
<rect class="gr" x="460.8" y="0" width="183.7" height="60"/>
</g>

<g id="row-39" transform="translate(0,5563.5)">
<use href="#staff"/>
<use href="#tg" x="32" y="-21"/><use href="#tg" x="277" y="-21"/><use href="#tg" x="522" y="-21"/><use href="#tg" x="767" y="-21"/>
<text class="tp" y="-20"><tspan x="36.8">=181</tspan><tspan x="281.8">=180</tspan><tspan x="526.8">=182</tspan><tspan x="771.8">=180</tspan></text>
<text class="mn" y="-6.5"><tspan x="32">153</tspan><tspan x="277">154</tspan><tspan x="522">155</tspan><tspan x="767">156</tspan></text>
<text class="bt b1" y="76"><tspan x="275.5">175</tspan><tspan x="520.5">150</tspan><tspan x="765.5">150</tspan><tspan x="1010.5">200</tspan></text>
<text class="bt b2" y="89.5"><tspan x="275.5">159713</tspan><tspan x="520.5">160613</tspan><tspan x="765.5">161813</tspan><tspan x="1010.5">164213</tspan></text>
<text class="bt b3" y="103"><tspan x="275.5">50.00%</tspan><tspan x="520.5">50.00%</tspan><tspan x="765.5">47.55%</tspan><tspan x="1010.5">35.05%</tspan></text>
<g class="G"><use href="#n" x="32" y="0"/><use href="#n" x="123.9" y="0"/><use href="#n" x="246.4" y="0"/><use href="#n" x="889.5" y="0"/></g>
<g class="R"><use href="#n" x="93.3" y="15"/><use href="#n" x="154.5" y="15"/><use href="#n" x="215.8" y="15"/><use href="#n" x="767" y="15"/><use href="#n" x="797.6" y="15"/><use href="#n" x="828.3" y="15"/><use href="#n" x="858.9" y="15"/><use href="#n" x="981.4" y="15"/></g>
<g class="Y"><use href="#n" x="185.1" y="30"/><use href="#n" x="522" y="30"/><use href="#n" x="583.3" y="30"/><use href="#n" x="644.5" y="30"/><use href="#n" x="705.8" y="30"/><use href="#n" x="950.8" y="30"/></g>
<g class="B"><use href="#n" x="277" y="45"/><use href="#n" x="338.3" y="45"/><use href="#n" x="399.5" y="45"/><use href="#n" x="460.8" y="45"/><use href="#n" x="613.9" y="45"/><use href="#n" x="736.4" y="45"/><use href="#n" x="920.1" y="45"/></g>
<g class="O"><use href="#n" x="368.9" y="60"/><use href="#n" x="491.4" y="60"/></g>
<rect class="rd" x="706" y="0" width="10.7" height="60"/>
<rect class="bl" x="716.7" y="0" width="295.3" height="60"/>
</g>

<g id="row-40" transform="translate(0,5704.5)">
<use href="#staff"/>
<use href="#tg" x="32" y="-21"/><use href="#tg" x="277" y="-21"/><use href="#tg" x="522" y="-21"/><use href="#tg" x="767" y="-21"/>
<text class="tp" y="-20"><tspan x="36.8">=177</tspan><tspan x="281.8">=184</tspan><tspan x="526.8">=179</tspan><tspan x="771.8">=175</tspan></text>
<text class="mn" y="-6.5"><tspan x="32">157</tspan><tspan x="277">158</tspan><tspan x="522">159</tspan><tspan x="767">160</tspan></text>
<text class="bt b1" y="76"><tspan x="275.5">175</tspan><tspan x="520.5">150</tspan><tspan x="765.5">150</tspan><tspan x="1010.5">200</tspan></text>
<text class="bt b2" y="89.5"><tspan x="275.5">166313</tspan><tspan x="520.5">168113</tspan><tspan x="765.5">169913</tspan><tspan x="1010.5">172313</tspan></text>
<text class="bt b3" y="103"><tspan x="275.5">22.55%</tspan><tspan x="520.5">10.05%</tspan><tspan x="765.5">0.00%</tspan><tspan x="1010.5">0.00%</tspan></text>
<g class="G"><use href="#n" x="32" y="0"/><use href="#n" x="123.9" y="0"/><use href="#n" x="246.4" y="0"/><use href="#n" x="889.5" y="0"/></g>
<g class="R"><use href="#n" x="93.3" y="15"/><use href="#n" x="154.5" y="15"/><use href="#n" x="215.8" y="15"/><use href="#n" x="767" y="15"/><use href="#n" x="797.6" y="15"/><use href="#n" x="828.3" y="15"/><use href="#n" x="858.9" y="15"/><use href="#n" x="981.4" y="15"/></g>
<g class="Y"><use href="#n" x="185.1" y="30"/><use href="#n" x="522" y="30"/><use href="#n" x="583.3" y="30"/><use href="#n" x="644.5" y="30"/><use href="#n" x="705.8" y="30"/><use href="#n" x="950.8" y="30"/></g>
<g class="B"><use href="#n" x="277" y="45"/><use href="#n" x="338.3" y="45"/><use href="#n" x="399.5" y="45"/><use href="#n" x="460.8" y="45"/><use href="#n" x="613.9" y="45"/><use href="#n" x="736.4" y="45"/><use href="#n" x="920.1" y="45"/></g>
<g class="O"><use href="#n" x="368.9" y="60"/><use href="#n" x="491.4" y="60"/></g>
<rect class="bl" x="32" y="0" width="980" height="60"/>
</g>

<g id="row-41" transform="translate(0,5845.5)">
<use href="#staff"/>
<use href="#tg" x="32" y="-21"/><use href="#tg" x="277" y="-21"/><use href="#tg" x="522" y="-21"/><use href="#tg" x="767" y="-21"/>
<text class="tp" y="-20"><tspan x="36.8">=183</tspan><tspan x="281.8">=177</tspan><tspan x="526.8">=187</tspan><tspan x="771.8">=187</tspan></text>
<text class="mn" y="-6.5"><tspan x="32">161</tspan><tspan x="277">162</tspan><tspan x="522">163</tspan><tspan x="767">164</tspan></text>
<text class="bt b1" y="76"><tspan x="275.5">175</tspan><tspan x="520.5">150</tspan><tspan x="765.5">150</tspan><tspan x="1010.5">50</tspan></text>
<text class="bt b2" y="89.5"><tspan x="275.5">174413</tspan><tspan x="520.5">175313</tspan><tspan x="765.5">176213</tspan><tspan x="1010.5">176513</tspan></text>
<text class="bt b3" y="103"><tspan x="275.5">0.00%</tspan><tspan x="520.5">0.00%</tspan><tspan x="765.5">0.00%</tspan><tspan x="1010.5">0.00%</tspan></text>
<g class="G"><use href="#n" x="32" y="0"/><use href="#n" x="123.9" y="0"/><use href="#n" x="246.4" y="0"/></g>
<g class="R"><use href="#n" x="93.3" y="15"/><use href="#n" x="154.5" y="15"/><use href="#n" x="215.8" y="15"/><use href="#n" x="797.6" y="15"/></g>
<g class="Y"><use href="#n" x="185.1" y="30"/><use href="#n" x="522" y="30"/><use href="#n" x="583.3" y="30"/><use href="#n" x="644.5" y="30"/><use href="#n" x="705.8" y="30"/><use href="#n" x="828.3" y="30"/></g>
<g class="B"><use href="#n" x="277" y="45"/><use href="#n" x="338.3" y="45"/><use href="#n" x="399.5" y="45"/><use href="#n" x="460.8" y="45"/><use href="#n" x="613.9" y="45"/><use href="#n" x="736.4" y="45"/></g>
<g class="O"><use href="#n" x="368.9" y="60"/><use href="#n" x="491.4" y="60"/></g>
<rect class="bl" x="32" y="0" width="196.7" height="60"/>
<rect class="rd" x="228.7" y="0" width="18" height="60"/>
</g>
</g>
</svg>
